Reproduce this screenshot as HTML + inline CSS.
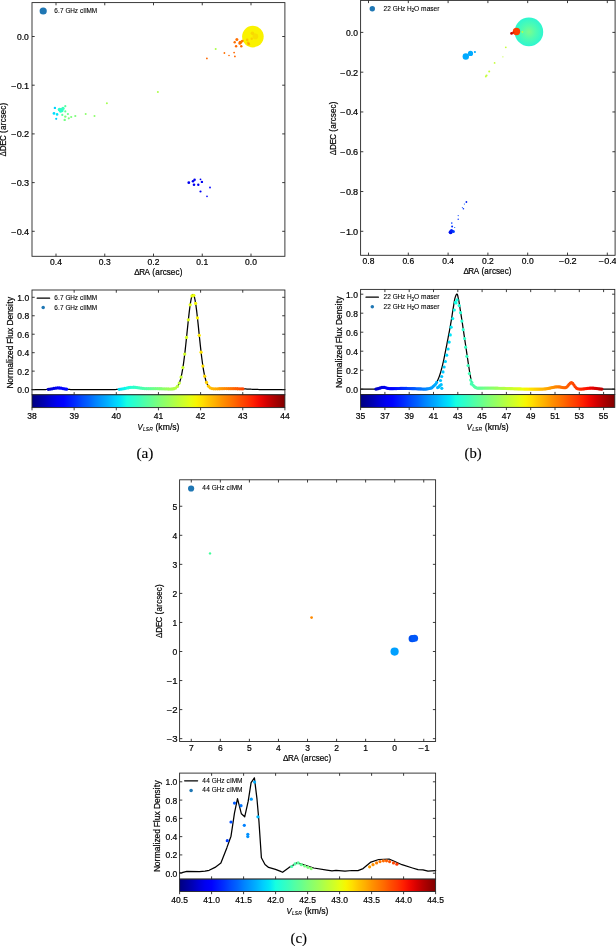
<!DOCTYPE html>
<html><head><meta charset="utf-8"><title>Maser spot maps and spectra</title>
<style>html,body{margin:0;padding:0;background:#fff;}body{width:616px;height:946px;overflow:hidden;font-family:"Liberation Sans",sans-serif;}svg{display:block;will-change:transform;}</style>
</head><body>
<svg width="616" height="946" viewBox="0 0 616 946">
<defs><linearGradient id="jg" x1="0" x2="1" y1="0" y2="0"><stop offset="0.000" stop-color="#000080"/><stop offset="0.025" stop-color="#00009b"/><stop offset="0.050" stop-color="#0000b6"/><stop offset="0.075" stop-color="#0000d6"/><stop offset="0.100" stop-color="#0000f1"/><stop offset="0.125" stop-color="#0001ff"/><stop offset="0.150" stop-color="#0019ff"/><stop offset="0.175" stop-color="#0031ff"/><stop offset="0.200" stop-color="#004dff"/><stop offset="0.225" stop-color="#0064ff"/><stop offset="0.250" stop-color="#0081ff"/><stop offset="0.275" stop-color="#0099ff"/><stop offset="0.300" stop-color="#00b1ff"/><stop offset="0.325" stop-color="#00cdff"/><stop offset="0.350" stop-color="#00e5f8"/><stop offset="0.375" stop-color="#16ffe1"/><stop offset="0.400" stop-color="#29ffce"/><stop offset="0.425" stop-color="#3cffba"/><stop offset="0.450" stop-color="#53ffa4"/><stop offset="0.475" stop-color="#66ff90"/><stop offset="0.500" stop-color="#7dff7a"/><stop offset="0.525" stop-color="#90ff66"/><stop offset="0.550" stop-color="#a4ff53"/><stop offset="0.575" stop-color="#baff3c"/><stop offset="0.600" stop-color="#ceff29"/><stop offset="0.625" stop-color="#e4ff13"/><stop offset="0.650" stop-color="#f8f500"/><stop offset="0.675" stop-color="#ffde00"/><stop offset="0.700" stop-color="#ffc400"/><stop offset="0.725" stop-color="#ffae00"/><stop offset="0.750" stop-color="#ff9400"/><stop offset="0.775" stop-color="#ff7e00"/><stop offset="0.800" stop-color="#ff6800"/><stop offset="0.825" stop-color="#ff4e00"/><stop offset="0.850" stop-color="#ff3800"/><stop offset="0.875" stop-color="#ff1e00"/><stop offset="0.900" stop-color="#f10800"/><stop offset="0.925" stop-color="#d60000"/><stop offset="0.950" stop-color="#b60000"/><stop offset="0.975" stop-color="#9b0000"/><stop offset="1.000" stop-color="#800000"/></linearGradient></defs>
<circle cx="252.90" cy="36.60" r="10.80" fill="#faf200"/>
<circle cx="252.40" cy="33.20" r="1.80" fill="#f8b800" fill-opacity="0.45"/>
<circle cx="255.40" cy="36.40" r="2.80" fill="#f8c800" fill-opacity="0.45"/>
<circle cx="251.70" cy="38.80" r="1.20" fill="#f8a800" fill-opacity="0.45"/>
<circle cx="247.20" cy="39.90" r="1.30" fill="#ff9000" fill-opacity="0.45"/>
<circle cx="248.20" cy="43.00" r="1.50" fill="#ff8000" fill-opacity="0.45"/>
<circle cx="248.90" cy="44.30" r="1.20" fill="#ff8000" fill-opacity="0.45"/>
<circle cx="54.90" cy="107.90" r="1.20" fill="#00d1ff"/>
<circle cx="54.00" cy="113.40" r="1.40" fill="#00ddfe"/>
<circle cx="57.10" cy="114.40" r="1.30" fill="#00e5f8"/>
<circle cx="56.20" cy="118.80" r="1.10" fill="#00d1ff"/>
<circle cx="59.60" cy="109.60" r="1.90" fill="#29ffce"/>
<circle cx="61.40" cy="109.90" r="1.90" fill="#30ffc7"/>
<circle cx="63.00" cy="108.40" r="1.70" fill="#39ffbe"/>
<circle cx="60.60" cy="111.20" r="1.50" fill="#29ffce"/>
<circle cx="62.20" cy="110.80" r="1.40" fill="#30ffc7"/>
<circle cx="65.30" cy="106.20" r="1.10" fill="#5aff9d"/>
<circle cx="65.30" cy="111.40" r="1.10" fill="#63ff94"/>
<circle cx="62.30" cy="114.90" r="1.10" fill="#5aff9d"/>
<circle cx="67.90" cy="114.00" r="1.10" fill="#6aff8d"/>
<circle cx="65.30" cy="116.60" r="1.20" fill="#7dff7a"/>
<circle cx="64.70" cy="119.90" r="1.20" fill="#73ff83"/>
<circle cx="68.80" cy="118.30" r="1.10" fill="#7dff7a"/>
<circle cx="71.20" cy="117.00" r="1.10" fill="#7dff7a"/>
<circle cx="75.30" cy="116.00" r="1.10" fill="#7dff7a"/>
<circle cx="85.70" cy="114.00" r="1.00" fill="#8dff6a"/>
<circle cx="94.50" cy="116.00" r="1.00" fill="#8dff6a"/>
<circle cx="106.90" cy="103.20" r="1.00" fill="#a4ff53"/>
<circle cx="157.90" cy="92.00" r="1.00" fill="#adff49"/>
<circle cx="215.70" cy="49.10" r="1.00" fill="#adff49"/>
<circle cx="206.90" cy="58.40" r="0.90" fill="#ff6800"/>
<circle cx="224.40" cy="53.00" r="0.90" fill="#ff6f00"/>
<circle cx="229.00" cy="55.50" r="0.80" fill="#ff6800"/>
<circle cx="234.10" cy="52.60" r="0.90" fill="#ff6800"/>
<circle cx="234.90" cy="56.40" r="0.90" fill="#ff6800"/>
<circle cx="236.90" cy="39.40" r="1.50" fill="#ff6f00"/>
<circle cx="234.70" cy="42.30" r="1.20" fill="#ff6f00"/>
<circle cx="240.30" cy="42.60" r="1.80" fill="#ff6f00"/>
<circle cx="242.30" cy="41.10" r="1.40" fill="#ff7a00"/>
<circle cx="236.10" cy="46.20" r="1.20" fill="#ff6800"/>
<circle cx="241.30" cy="46.30" r="1.20" fill="#ff6800"/>
<circle cx="239.60" cy="43.60" r="1.20" fill="#ff6f00"/>
<circle cx="188.80" cy="182.70" r="1.40" fill="#0000f1"/>
<circle cx="193.00" cy="181.20" r="1.30" fill="#0000f1"/>
<circle cx="194.60" cy="179.70" r="1.30" fill="#0000f1"/>
<circle cx="194.00" cy="184.80" r="1.30" fill="#0000f1"/>
<circle cx="198.30" cy="184.80" r="1.20" fill="#0000f1"/>
<circle cx="200.50" cy="179.30" r="0.90" fill="#0000f1"/>
<circle cx="201.90" cy="181.90" r="1.20" fill="#0000f1"/>
<circle cx="210.00" cy="187.50" r="0.90" fill="#0000ff"/>
<circle cx="200.50" cy="191.50" r="1.10" fill="#0000f1"/>
<circle cx="207.00" cy="196.40" r="0.80" fill="#0000ff"/>
<path d="M56.00 2.60v2.70M56.00 256.30v-2.70M104.75 2.60v2.70M104.75 256.30v-2.70M153.50 2.60v2.70M153.50 256.30v-2.70M202.25 2.60v2.70M202.25 256.30v-2.70M251.00 2.60v2.70M251.00 256.30v-2.70M32.00 36.50h2.70M284.90 36.50h-2.70M32.00 85.20h2.70M284.90 85.20h-2.70M32.00 133.90h2.70M284.90 133.90h-2.70M32.00 182.60h2.70M284.90 182.60h-2.70M32.00 231.30h2.70M284.90 231.30h-2.70" stroke="#262626" stroke-width="0.90" fill="none"/>
<rect x="32.00" y="2.60" width="252.90" height="253.70" fill="none" stroke="#262626" stroke-width="0.90"/>
<circle cx="43.20" cy="11.00" r="3.60" fill="#1f77b4"/>
<text transform="translate(54.20 12.90) scale(0.957 1)" x="0.13 4.05 6.11 10.04 11.79 16.76 21.51 24.90 26.88 30.27 32.12 33.89 39.30" y="0" font-family="Liberation Sans" font-size="6.72" stroke="#000" stroke-width="0.10" xml:space="preserve">6.7 GHz cIIMM</text>
<text transform="translate(56.00 264.70) scale(1.021 1)" x="-5.80 -1.16 1.16" y="0" font-family="Liberation Sans" font-size="8.34" stroke="#000" stroke-width="0.20" xml:space="preserve">0.4</text>
<text transform="translate(104.75 264.70) scale(1.021 1)" x="-5.80 -1.16 1.16" y="0" font-family="Liberation Sans" font-size="8.34" stroke="#000" stroke-width="0.20" xml:space="preserve">0.3</text>
<text transform="translate(153.50 264.70) scale(1.021 1)" x="-5.80 -1.16 1.16" y="0" font-family="Liberation Sans" font-size="8.34" stroke="#000" stroke-width="0.20" xml:space="preserve">0.2</text>
<text transform="translate(202.25 264.70) scale(1.021 1)" x="-5.80 -1.16 1.16" y="0" font-family="Liberation Sans" font-size="8.34" stroke="#000" stroke-width="0.20" xml:space="preserve">0.1</text>
<text transform="translate(251.00 264.70) scale(1.021 1)" x="-5.80 -1.16 1.16" y="0" font-family="Liberation Sans" font-size="8.34" stroke="#000" stroke-width="0.20" xml:space="preserve">0.0</text>
<text transform="translate(28.80 40.00) scale(1.021 1)" x="-11.60 -6.96 -4.64" y="0" font-family="Liberation Sans" font-size="8.34" stroke="#000" stroke-width="0.20" xml:space="preserve">0.0</text>
<text transform="translate(28.80 88.70) scale(1.098 1)" x="-16.07 -10.95 -6.55 -4.48" y="0" font-family="Liberation Sans" font-size="8.34" stroke="#000" stroke-width="0.20" xml:space="preserve">−0.1</text>
<text transform="translate(28.80 137.40) scale(1.098 1)" x="-16.07 -10.95 -6.55 -4.48" y="0" font-family="Liberation Sans" font-size="8.34" stroke="#000" stroke-width="0.20" xml:space="preserve">−0.2</text>
<text transform="translate(28.80 186.10) scale(1.098 1)" x="-16.07 -10.95 -6.55 -4.48" y="0" font-family="Liberation Sans" font-size="8.34" stroke="#000" stroke-width="0.20" xml:space="preserve">−0.3</text>
<text transform="translate(28.80 234.80) scale(1.098 1)" x="-16.07 -10.95 -6.55 -4.48" y="0" font-family="Liberation Sans" font-size="8.34" stroke="#000" stroke-width="0.20" xml:space="preserve">−0.4</text>
<text transform="translate(158.40 275.20) scale(0.964 1)" x="-25.12 -19.98 -14.39 -8.86 -6.34 -3.37 1.55 4.59 8.75 12.93 17.70 22.06" y="0" font-family="Liberation Sans" font-size="8.40" stroke="#000" stroke-width="0.20" xml:space="preserve">ΔRA (arcsec)</text>
<text transform="translate(6.40 129.50) rotate(-90) scale(0.956 1)" x="-28.13 -22.66 -16.93 -11.94 -6.09 -3.55 -0.55 4.40 7.47 11.67 15.89 20.69 25.08" y="0" font-family="Liberation Sans" font-size="8.40" stroke="#000" stroke-width="0.20" xml:space="preserve">ΔDEC (arcsec)</text>
<polyline points="32.00,389.60 32.36,389.60 32.72,389.60 33.09,389.60 33.45,389.60 33.81,389.60 34.17,389.60 34.53,389.60 34.89,389.60 35.26,389.60 35.62,389.60 35.98,389.60 36.34,389.60 36.70,389.60 37.07,389.60 37.43,389.60 37.79,389.60 38.15,389.60 38.51,389.60 38.87,389.60 39.24,389.60 39.60,389.60 39.96,389.60 40.32,389.60 40.68,389.60 41.05,389.59 41.41,389.59 41.77,389.59 42.13,389.59 42.49,389.59 42.85,389.58 43.22,389.58 43.58,389.57 43.94,389.57 44.30,389.56 44.66,389.55 45.02,389.54 45.39,389.53 45.75,389.52 46.11,389.50 46.47,389.48 46.83,389.46 47.20,389.44 47.56,389.41 47.92,389.38 48.28,389.35 48.64,389.31 49.00,389.27 49.37,389.23 49.73,389.18 50.09,389.13 50.45,389.08 50.81,389.02 51.18,388.95 51.54,388.89 51.90,388.82 52.26,388.75 52.62,388.68 52.98,388.61 53.35,388.54 53.71,388.47 54.07,388.40 54.43,388.33 54.79,388.26 55.16,388.20 55.52,388.15 55.88,388.10 56.24,388.05 56.60,388.01 56.96,387.98 57.33,387.96 57.69,387.95 58.05,387.94 58.41,387.94 58.77,387.95 59.14,387.97 59.50,388.00 59.86,388.03 60.22,388.07 60.58,388.12 60.94,388.18 61.31,388.24 61.67,388.30 62.03,388.37 62.39,388.43 62.75,388.51 63.12,388.58 63.48,388.65 63.84,388.72 64.20,388.79 64.56,388.86 64.92,388.93 65.29,388.99 65.65,389.05 66.01,389.11 66.37,389.16 66.73,389.21 67.09,389.25 67.46,389.30 67.82,389.33 68.18,389.37 68.54,389.40 68.90,389.43 69.27,389.45 69.63,389.47 69.99,389.49 70.35,389.51 70.71,389.52 71.07,389.54 71.44,389.55 71.80,389.56 72.16,389.56 72.52,389.57 72.88,389.58 73.25,389.58 73.61,389.58 73.97,389.59 74.33,389.59 74.69,389.59 75.05,389.59 75.42,389.60 75.78,389.60 76.14,389.60 76.50,389.60 76.86,389.60 77.23,389.60 77.59,389.60 77.95,389.60 78.31,389.60 78.67,389.60 79.03,389.60 79.40,389.60 79.76,389.60 80.12,389.60 80.48,389.60 80.84,389.60 81.21,389.60 81.57,389.60 81.93,389.60 82.29,389.60 82.65,389.60 83.01,389.60 83.38,389.60 83.74,389.60 84.10,389.60 84.46,389.60 84.82,389.60 85.18,389.60 85.55,389.60 85.91,389.60 86.27,389.60 86.63,389.60 86.99,389.60 87.36,389.60 87.72,389.60 88.08,389.60 88.44,389.60 88.80,389.60 89.16,389.60 89.53,389.60 89.89,389.60 90.25,389.60 90.61,389.60 90.97,389.60 91.34,389.60 91.70,389.60 92.06,389.60 92.42,389.60 92.78,389.60 93.14,389.60 93.51,389.60 93.87,389.60 94.23,389.60 94.59,389.60 94.95,389.60 95.32,389.60 95.68,389.60 96.04,389.60 96.40,389.60 96.76,389.60 97.12,389.60 97.49,389.60 97.85,389.60 98.21,389.60 98.57,389.60 98.93,389.60 99.30,389.60 99.66,389.60 100.02,389.60 100.38,389.60 100.74,389.60 101.10,389.60 101.47,389.60 101.83,389.60 102.19,389.60 102.55,389.60 102.91,389.60 103.28,389.60 103.64,389.60 104.00,389.60 104.36,389.60 104.72,389.60 105.08,389.60 105.45,389.60 105.81,389.60 106.17,389.60 106.53,389.59 106.89,389.59 107.25,389.59 107.62,389.59 107.98,389.59 108.34,389.59 108.70,389.59 109.06,389.59 109.43,389.59 109.79,389.59 110.15,389.59 110.51,389.58 110.87,389.58 111.23,389.58 111.60,389.58 111.96,389.57 112.32,389.57 112.68,389.57 113.04,389.56 113.41,389.56 113.77,389.55 114.13,389.54 114.49,389.54 114.85,389.53 115.21,389.52 115.58,389.51 115.94,389.50 116.30,389.48 116.66,389.47 117.02,389.45 117.39,389.43 117.75,389.41 118.11,389.39 118.47,389.37 118.83,389.34 119.19,389.31 119.56,389.28 119.92,389.24 120.28,389.20 120.64,389.16 121.00,389.12 121.37,389.07 121.73,389.02 122.09,388.97 122.45,388.91 122.81,388.85 123.17,388.79 123.54,388.72 123.90,388.65 124.26,388.58 124.62,388.51 124.98,388.43 125.35,388.36 125.71,388.28 126.07,388.20 126.43,388.13 126.79,388.05 127.15,387.97 127.52,387.90 127.88,387.83 128.24,387.76 128.60,387.69 128.96,387.62 129.32,387.56 129.69,387.51 130.05,387.46 130.41,387.41 130.77,387.37 131.13,387.33 131.50,387.31 131.86,387.28 132.22,387.27 132.58,387.26 132.94,387.25 133.30,387.26 133.67,387.27 134.03,387.28 134.39,387.30 134.75,387.33 135.11,387.36 135.48,387.40 135.84,387.44 136.20,387.48 136.56,387.53 136.92,387.58 137.28,387.63 137.65,387.69 138.01,387.74 138.37,387.80 138.73,387.85 139.09,387.91 139.46,387.97 139.82,388.02 140.18,388.08 140.54,388.13 140.90,388.18 141.26,388.23 141.63,388.27 141.99,388.32 142.35,388.36 142.71,388.39 143.07,388.43 143.44,388.46 143.80,388.49 144.16,388.52 144.52,388.54 144.88,388.56 145.24,388.58 145.61,388.60 145.97,388.61 146.33,388.63 146.69,388.64 147.05,388.65 147.42,388.65 147.78,388.66 148.14,388.66 148.50,388.67 148.86,388.67 149.22,388.67 149.59,388.67 149.95,388.67 150.31,388.67 150.67,388.67 151.03,388.67 151.39,388.67 151.76,388.67 152.12,388.67 152.48,388.67 152.84,388.67 153.20,388.67 153.57,388.67 153.93,388.67 154.29,388.67 154.65,388.67 155.01,388.68 155.37,388.68 155.74,388.68 156.10,388.68 156.46,388.69 156.82,388.69 157.18,388.69 157.55,388.70 157.91,388.70 158.27,388.71 158.63,388.72 158.99,388.72 159.35,388.73 159.72,388.74 160.08,388.75 160.44,388.76 160.80,388.76 161.16,388.77 161.53,388.78 161.89,388.79 162.25,388.80 162.61,388.81 162.97,388.83 163.33,388.84 163.70,388.85 164.06,388.86 164.42,388.87 164.78,388.88 165.14,388.90 165.51,388.91 165.87,388.92 166.23,388.93 166.59,388.95 166.95,388.96 167.31,388.97 167.68,388.98 168.04,388.99 168.40,389.00 168.76,389.01 169.12,389.02 169.48,389.03 169.85,389.03 170.21,389.03 170.57,389.03 170.93,389.03 171.29,389.02 171.66,389.00 172.02,388.98 172.38,388.96 172.74,388.92 173.10,388.87 173.46,388.81 173.83,388.74 174.19,388.64 174.55,388.53 174.91,388.39 175.27,388.23 175.64,388.03 176.00,387.80 176.36,387.53 176.72,387.21 177.08,386.84 177.44,386.40 177.81,385.91 178.17,385.34 178.53,384.68 178.89,383.94 179.25,383.11 179.62,382.17 179.98,381.11 180.34,379.94 180.70,378.63 181.06,377.19 181.42,375.61 181.79,373.88 182.15,371.99 182.51,369.95 182.87,367.75 183.23,365.39 183.60,362.87 183.96,360.19 184.32,357.37 184.68,354.41 185.04,351.31 185.40,348.10 185.77,344.78 186.13,341.38 186.49,337.91 186.85,334.40 187.21,330.87 187.58,327.35 187.94,323.86 188.30,320.44 188.66,317.11 189.02,313.90 189.38,310.85 189.75,307.98 190.11,305.33 190.47,302.91 190.83,300.76 191.19,298.90 191.55,297.34 191.92,296.11 192.28,295.22 192.64,294.68 193.00,294.49 193.36,294.66 193.73,295.18 194.09,296.05 194.45,297.26 194.81,298.80 195.17,300.65 195.53,302.78 195.90,305.19 196.26,307.83 196.62,310.68 196.98,313.73 197.34,316.92 197.71,320.25 198.07,323.67 198.43,327.15 198.79,330.67 199.15,334.20 199.51,337.71 199.88,341.18 200.24,344.59 200.60,347.91 200.96,351.13 201.32,354.23 201.69,357.21 202.05,360.04 202.41,362.72 202.77,365.24 203.13,367.61 203.49,369.82 203.86,371.87 204.22,373.76 204.58,375.50 204.94,377.09 205.30,378.53 205.67,379.84 206.03,381.02 206.39,382.08 206.75,383.02 207.11,383.86 207.47,384.60 207.84,385.25 208.20,385.82 208.56,386.32 208.92,386.75 209.28,387.12 209.65,387.43 210.01,387.70 210.37,387.93 210.73,388.12 211.09,388.28 211.45,388.41 211.82,388.52 212.18,388.61 212.54,388.68 212.90,388.73 213.26,388.77 213.62,388.81 213.99,388.83 214.35,388.84 214.71,388.85 215.07,388.85 215.43,388.85 215.80,388.85 216.16,388.84 216.52,388.83 216.88,388.82 217.24,388.81 217.60,388.80 217.97,388.79 218.33,388.77 218.69,388.76 219.05,388.75 219.41,388.74 219.78,388.72 220.14,388.71 220.50,388.70 220.86,388.69 221.22,388.68 221.58,388.67 221.95,388.66 222.31,388.66 222.67,388.65 223.03,388.64 223.39,388.64 223.76,388.63 224.12,388.63 224.48,388.63 224.84,388.62 225.20,388.62 225.56,388.62 225.93,388.62 226.29,388.62 226.65,388.62 227.01,388.62 227.37,388.62 227.74,388.63 228.10,388.63 228.46,388.63 228.82,388.64 229.18,388.64 229.54,388.64 229.91,388.65 230.27,388.65 230.63,388.66 230.99,388.66 231.35,388.66 231.72,388.67 232.08,388.67 232.44,388.68 232.80,388.68 233.16,388.69 233.52,388.69 233.89,388.70 234.25,388.70 234.61,388.71 234.97,388.71 235.33,388.72 235.69,388.72 236.06,388.73 236.42,388.73 236.78,388.74 237.14,388.74 237.50,388.75 237.87,388.75 238.23,388.76 238.59,388.77 238.95,388.77 239.31,388.78 239.67,388.79 240.04,388.79 240.40,388.80 240.76,388.81 241.12,388.82 241.48,388.83 241.85,388.84 242.21,388.85 242.57,388.86 242.93,388.87 243.29,388.88 243.65,388.89 244.02,388.91 244.38,388.92 244.74,388.93 245.10,388.95 245.46,388.96 245.83,388.98 246.19,388.99 246.55,389.01 246.91,389.03 247.27,389.04 247.63,389.06 248.00,389.08 248.36,389.10 248.72,389.11 249.08,389.13 249.44,389.15 249.81,389.17 250.17,389.18 250.53,389.20 250.89,389.22 251.25,389.24 251.61,389.25 251.98,389.27 252.34,389.29 252.70,389.30 253.06,389.32 253.42,389.33 253.78,389.35 254.15,389.36 254.51,389.38 254.87,389.39 255.23,389.40 255.59,389.42 255.96,389.43 256.32,389.44 256.68,389.45 257.04,389.46 257.40,389.47 257.76,389.48 258.13,389.49 258.49,389.50 258.85,389.51 259.21,389.51 259.57,389.52 259.94,389.53 260.30,389.53 260.66,389.54 261.02,389.55 261.38,389.55 261.74,389.55 262.11,389.56 262.47,389.56 262.83,389.57 263.19,389.57 263.55,389.57 263.92,389.58 264.28,389.58 264.64,389.58 265.00,389.58 265.36,389.58 265.72,389.59 266.09,389.59 266.45,389.59 266.81,389.59 267.17,389.59 267.53,389.59 267.90,389.59 268.26,389.59 268.62,389.59 268.98,389.60 269.34,389.60 269.70,389.60 270.07,389.60 270.43,389.60 270.79,389.60 271.15,389.60 271.51,389.60 271.88,389.60 272.24,389.60 272.60,389.60 272.96,389.60 273.32,389.60 273.68,389.60 274.05,389.60 274.41,389.60 274.77,389.60 275.13,389.60 275.49,389.60 275.85,389.60 276.22,389.60 276.58,389.60 276.94,389.60 277.30,389.60 277.66,389.60 278.03,389.60 278.39,389.60 278.75,389.60 279.11,389.60 279.47,389.60 279.83,389.60 280.20,389.60 280.56,389.60 280.92,389.60 281.28,389.60 281.64,389.60 282.01,389.60 282.37,389.60 282.73,389.60 283.09,389.60 283.45,389.60 283.81,389.60 284.18,389.60 284.54,389.60 284.90,389.60" fill="none" stroke="#000" stroke-width="1.25" stroke-linejoin="round" stroke-linecap="round"/>
<circle cx="48.39" cy="389.34" r="1.65" fill="#0000c8"/>
<circle cx="50.20" cy="389.11" r="1.65" fill="#0000d1"/>
<circle cx="52.02" cy="388.80" r="1.65" fill="#0000da"/>
<circle cx="53.84" cy="388.44" r="1.65" fill="#0000e3"/>
<circle cx="55.66" cy="388.13" r="1.65" fill="#0000e8"/>
<circle cx="57.47" cy="387.95" r="1.65" fill="#0000f1"/>
<circle cx="59.29" cy="387.98" r="1.65" fill="#0000fa"/>
<circle cx="61.11" cy="388.20" r="1.65" fill="#0000ff"/>
<circle cx="62.93" cy="388.54" r="1.65" fill="#0000ff"/>
<circle cx="64.75" cy="388.89" r="1.65" fill="#0004ff"/>
<circle cx="66.56" cy="389.19" r="1.65" fill="#0009ff"/>
<circle cx="119.28" cy="389.30" r="1.65" fill="#00e1fb"/>
<circle cx="121.10" cy="389.11" r="1.65" fill="#02e8f4"/>
<circle cx="122.92" cy="388.83" r="1.65" fill="#09f1ee"/>
<circle cx="124.73" cy="388.49" r="1.65" fill="#0cf5eb"/>
<circle cx="126.55" cy="388.10" r="1.65" fill="#13fde4"/>
<circle cx="128.37" cy="387.73" r="1.65" fill="#19ffde"/>
<circle cx="130.19" cy="387.44" r="1.65" fill="#1fffd7"/>
<circle cx="132.01" cy="387.28" r="1.65" fill="#26ffd1"/>
<circle cx="133.82" cy="387.27" r="1.65" fill="#2cffca"/>
<circle cx="135.64" cy="387.41" r="1.65" fill="#30ffc7"/>
<circle cx="137.46" cy="387.66" r="1.65" fill="#36ffc1"/>
<circle cx="139.28" cy="387.94" r="1.65" fill="#3cffba"/>
<circle cx="141.10" cy="388.20" r="1.65" fill="#43ffb4"/>
<circle cx="142.91" cy="388.41" r="1.65" fill="#49ffad"/>
<circle cx="144.73" cy="388.55" r="1.65" fill="#50ffa7"/>
<circle cx="146.55" cy="388.63" r="1.65" fill="#53ffa4"/>
<circle cx="148.37" cy="388.67" r="1.65" fill="#5aff9d"/>
<circle cx="150.18" cy="388.67" r="1.65" fill="#60ff97"/>
<circle cx="152.00" cy="388.67" r="1.65" fill="#66ff90"/>
<circle cx="153.82" cy="388.67" r="1.65" fill="#6dff8a"/>
<circle cx="155.64" cy="388.68" r="1.65" fill="#73ff83"/>
<circle cx="157.46" cy="388.70" r="1.65" fill="#77ff80"/>
<circle cx="159.27" cy="388.73" r="1.65" fill="#7dff7a"/>
<circle cx="161.09" cy="388.77" r="1.65" fill="#83ff73"/>
<circle cx="162.91" cy="388.82" r="1.65" fill="#8aff6d"/>
<circle cx="164.73" cy="388.88" r="1.65" fill="#90ff66"/>
<circle cx="166.55" cy="388.94" r="1.65" fill="#97ff60"/>
<circle cx="168.36" cy="389.00" r="1.65" fill="#9dff5a"/>
<circle cx="170.18" cy="389.03" r="1.65" fill="#a0ff56"/>
<circle cx="172.00" cy="388.99" r="1.65" fill="#a7ff50"/>
<circle cx="173.82" cy="388.74" r="1.65" fill="#adff49"/>
<circle cx="175.63" cy="388.03" r="1.65" fill="#b4ff43"/>
<circle cx="177.45" cy="386.39" r="1.65" fill="#baff3c"/>
<circle cx="179.27" cy="383.07" r="1.65" fill="#c1ff36"/>
<circle cx="181.09" cy="377.09" r="1.65" fill="#c4ff33"/>
<circle cx="182.91" cy="367.53" r="1.65" fill="#caff2c"/>
<circle cx="184.72" cy="354.05" r="1.65" fill="#d1ff26"/>
<circle cx="186.54" cy="337.41" r="1.65" fill="#d7ff1f"/>
<circle cx="188.36" cy="319.87" r="1.65" fill="#deff19"/>
<circle cx="190.18" cy="304.85" r="1.65" fill="#e4ff13"/>
<circle cx="192.00" cy="295.89" r="1.65" fill="#e7ff0f"/>
<circle cx="193.81" cy="295.36" r="1.65" fill="#eeff09"/>
<circle cx="195.63" cy="303.40" r="1.65" fill="#f4f802"/>
<circle cx="197.45" cy="317.87" r="1.65" fill="#fbf100"/>
<circle cx="199.27" cy="335.31" r="1.65" fill="#ffea00"/>
<circle cx="201.08" cy="352.20" r="1.65" fill="#ffe200"/>
<circle cx="202.90" cy="366.12" r="1.65" fill="#ffde00"/>
<circle cx="204.72" cy="376.13" r="1.65" fill="#ffd700"/>
<circle cx="206.54" cy="382.48" r="1.65" fill="#ffd000"/>
<circle cx="208.36" cy="386.05" r="1.65" fill="#ffc800"/>
<circle cx="210.17" cy="387.81" r="1.65" fill="#ffc100"/>
<circle cx="211.99" cy="388.57" r="1.65" fill="#ffb900"/>
<circle cx="213.81" cy="388.82" r="1.65" fill="#ffb200"/>
<circle cx="215.63" cy="388.85" r="1.65" fill="#ffae00"/>
<circle cx="217.44" cy="388.81" r="1.65" fill="#ffa700"/>
<circle cx="219.26" cy="388.74" r="1.65" fill="#ff9f00"/>
<circle cx="221.08" cy="388.69" r="1.65" fill="#ff9800"/>
<circle cx="222.90" cy="388.65" r="1.65" fill="#ff9100"/>
<circle cx="224.72" cy="388.62" r="1.65" fill="#ff8900"/>
<circle cx="226.53" cy="388.62" r="1.65" fill="#ff8600"/>
<circle cx="228.35" cy="388.63" r="1.65" fill="#ff7e00"/>
<circle cx="230.17" cy="388.65" r="1.65" fill="#ff7700"/>
<circle cx="231.99" cy="388.67" r="1.65" fill="#ff6f00"/>
<circle cx="233.81" cy="388.70" r="1.65" fill="#ff6800"/>
<circle cx="235.62" cy="388.72" r="1.65" fill="#ff6000"/>
<circle cx="237.44" cy="388.75" r="1.65" fill="#ff5d00"/>
<circle cx="239.26" cy="388.78" r="1.65" fill="#ff5500"/>
<circle cx="241.08" cy="388.82" r="1.65" fill="#ff4e00"/>
<circle cx="242.89" cy="388.87" r="1.65" fill="#ff4700"/>
<path d="M74.15 290.00v2.70M116.30 290.00v2.70M158.45 290.00v2.70M200.60 290.00v2.70M242.75 290.00v2.70M32.00 389.60h2.70M284.90 389.60h-2.70M32.00 371.14h2.70M284.90 371.14h-2.70M32.00 352.68h2.70M284.90 352.68h-2.70M32.00 334.22h2.70M284.90 334.22h-2.70M32.00 315.76h2.70M284.90 315.76h-2.70M32.00 297.30h2.70M284.90 297.30h-2.70" stroke="#262626" stroke-width="0.90" fill="none"/>
<rect x="32.00" y="290.00" width="252.90" height="104.80" fill="none" stroke="#262626" stroke-width="0.90"/>
<polyline points="37.20,298.20 49.60,298.20" fill="none" stroke="#000" stroke-width="1.25" stroke-linejoin="round" stroke-linecap="round"/>
<text transform="translate(54.20 300.40) scale(0.957 1)" x="0.13 4.05 6.11 10.04 11.79 16.76 21.51 24.90 26.88 30.27 32.12 33.89 39.30" y="0" font-family="Liberation Sans" font-size="6.72" stroke="#000" stroke-width="0.10" xml:space="preserve">6.7 GHz cIIMM</text>
<circle cx="43.20" cy="307.60" r="1.75" fill="#1f77b4"/>
<text transform="translate(54.20 309.60) scale(0.957 1)" x="0.13 4.05 6.11 10.04 11.79 16.76 21.51 24.90 26.88 30.27 32.12 33.89 39.30" y="0" font-family="Liberation Sans" font-size="6.72" stroke="#000" stroke-width="0.10" xml:space="preserve">6.7 GHz cIIMM</text>
<text transform="translate(29.20 393.10) scale(1.021 1)" x="-11.60 -6.96 -4.64" y="0" font-family="Liberation Sans" font-size="8.34" stroke="#000" stroke-width="0.20" xml:space="preserve">0.0</text>
<text transform="translate(29.20 374.64) scale(1.021 1)" x="-11.60 -6.96 -4.64" y="0" font-family="Liberation Sans" font-size="8.34" stroke="#000" stroke-width="0.20" xml:space="preserve">0.2</text>
<text transform="translate(29.20 356.18) scale(1.021 1)" x="-11.60 -6.96 -4.64" y="0" font-family="Liberation Sans" font-size="8.34" stroke="#000" stroke-width="0.20" xml:space="preserve">0.4</text>
<text transform="translate(29.20 337.72) scale(1.021 1)" x="-11.60 -6.96 -4.64" y="0" font-family="Liberation Sans" font-size="8.34" stroke="#000" stroke-width="0.20" xml:space="preserve">0.6</text>
<text transform="translate(29.20 319.26) scale(1.021 1)" x="-11.60 -6.96 -4.64" y="0" font-family="Liberation Sans" font-size="8.34" stroke="#000" stroke-width="0.20" xml:space="preserve">0.8</text>
<text transform="translate(29.20 300.80) scale(1.021 1)" x="-11.60 -6.96 -4.64" y="0" font-family="Liberation Sans" font-size="8.34" stroke="#000" stroke-width="0.20" xml:space="preserve">1.0</text>
<text transform="translate(12.60 342.50) rotate(-90) scale(1.006 1)" x="-45.76 -39.99 -35.24 -32.17 -25.09 -20.37 -18.29 -16.47 -12.45 -7.79 -3.07 -1.14 3.68 5.67 10.48 14.81 17.00 22.86 27.52 32.06 36.21 38.47 41.21" y="0" font-family="Liberation Sans" font-size="8.40" stroke="#000" stroke-width="0.20" xml:space="preserve">Normalized Flux Density</text>
<rect x="32.00" y="394.80" width="252.90" height="12.80" fill="url(#jg)"/>
<rect x="32.00" y="394.80" width="252.90" height="12.80" fill="none" stroke="#262626" stroke-width="0.90"/>
<path d="M32.00 407.60v2.70M74.15 394.80v-2.70M74.15 407.60v2.70M116.30 394.80v-2.70M116.30 407.60v2.70M158.45 394.80v-2.70M158.45 407.60v2.70M200.60 394.80v-2.70M200.60 407.60v2.70M242.75 394.80v-2.70M242.75 407.60v2.70M284.90 407.60v2.70" stroke="#262626" stroke-width="0.90" fill="none"/>
<text transform="translate(32.00 418.70) scale(1.021 1)" x="-4.64 0.00" y="0" font-family="Liberation Sans" font-size="8.34" stroke="#000" stroke-width="0.20" xml:space="preserve">38</text>
<text transform="translate(74.15 418.70) scale(1.021 1)" x="-4.64 0.00" y="0" font-family="Liberation Sans" font-size="8.34" stroke="#000" stroke-width="0.20" xml:space="preserve">39</text>
<text transform="translate(116.30 418.70) scale(1.021 1)" x="-4.64 0.00" y="0" font-family="Liberation Sans" font-size="8.34" stroke="#000" stroke-width="0.20" xml:space="preserve">40</text>
<text transform="translate(158.45 418.70) scale(1.021 1)" x="-4.64 0.00" y="0" font-family="Liberation Sans" font-size="8.34" stroke="#000" stroke-width="0.20" xml:space="preserve">41</text>
<text transform="translate(200.60 418.70) scale(1.021 1)" x="-4.64 0.00" y="0" font-family="Liberation Sans" font-size="8.34" stroke="#000" stroke-width="0.20" xml:space="preserve">42</text>
<text transform="translate(242.75 418.70) scale(1.021 1)" x="-4.64 0.00" y="0" font-family="Liberation Sans" font-size="8.34" stroke="#000" stroke-width="0.20" xml:space="preserve">43</text>
<text transform="translate(284.90 418.70) scale(1.021 1)" x="-4.64 0.00" y="0" font-family="Liberation Sans" font-size="8.34" stroke="#000" stroke-width="0.20" xml:space="preserve">44</text>
<text transform="translate(137.47 429.50) scale(0.916 1)" x="0.00" y="0" font-family="Liberation Sans" font-size="8.40" font-style="italic" stroke="#000" stroke-width="0.20" xml:space="preserve">V</text>
<text transform="translate(142.90 431.30) scale(0.866 1)" x="0.05 3.34 7.21" y="0" font-family="Liberation Sans" font-size="5.88" font-style="italic" stroke="#000" stroke-width="0.10" xml:space="preserve">LSR</text>
<text transform="translate(153.01 429.50) scale(1.026 1)" x="-0.00 2.35 5.19 9.47 16.60 18.80 22.83" y="0" font-family="Liberation Sans" font-size="8.40" stroke="#000" stroke-width="0.20" xml:space="preserve"> (km/s)</text>
<text x="144.90" y="458.10" font-family="Liberation Serif" font-size="14.60" text-anchor="middle" textLength="17.00" lengthAdjust="spacingAndGlyphs" stroke="#000" stroke-width="0.12">(a)</text>
<defs><radialGradient id="rgb" cx="0.5" cy="0.5" r="0.5"><stop offset="0" stop-color="#7dfc8c"/><stop offset="0.45" stop-color="#52fcae"/><stop offset="1" stop-color="#2ef6d0"/></radialGradient></defs>
<circle cx="528.90" cy="31.90" r="14.30" fill="url(#rgb)"/>
<circle cx="522.40" cy="31.90" r="0.90" fill="#c8ff30"/>
<circle cx="516.50" cy="31.50" r="3.70" fill="#ff4000"/>
<circle cx="511.60" cy="33.40" r="1.40" fill="#c80000"/>
<circle cx="513.20" cy="32.60" r="1.20" fill="#e02000"/>
<circle cx="465.80" cy="56.50" r="3.20" fill="#00aaff"/>
<circle cx="470.50" cy="53.40" r="2.60" fill="#00aaff"/>
<circle cx="474.90" cy="52.00" r="1.10" fill="#00aaff"/>
<circle cx="505.80" cy="47.30" r="0.90" fill="#c4ff3a"/>
<circle cx="502.90" cy="56.80" r="0.60" fill="#c4ff3a"/>
<circle cx="494.60" cy="62.90" r="0.90" fill="#c4ff3a"/>
<circle cx="489.20" cy="71.40" r="1.00" fill="#c4ff3a"/>
<circle cx="486.50" cy="75.50" r="1.10" fill="#c4ff3a"/>
<circle cx="485.80" cy="76.60" r="0.90" fill="#c4ff3a"/>
<circle cx="450.60" cy="232.20" r="2.00" fill="#0010ee"/>
<circle cx="453.40" cy="231.60" r="1.50" fill="#0040ff"/>
<circle cx="452.10" cy="226.40" r="1.00" fill="#0030ff"/>
<circle cx="451.80" cy="223.10" r="0.80" fill="#0040ff"/>
<circle cx="454.70" cy="227.50" r="0.60" fill="#0050ff"/>
<circle cx="458.20" cy="219.20" r="0.70" fill="#0030ff"/>
<circle cx="458.20" cy="215.60" r="0.60" fill="#0040ff"/>
<circle cx="463.40" cy="208.80" r="0.80" fill="#0030ff"/>
<circle cx="462.30" cy="207.50" r="0.50" fill="#0040ff"/>
<circle cx="464.40" cy="204.00" r="0.60" fill="#0050ff"/>
<circle cx="466.40" cy="202.00" r="0.90" fill="#0020f0"/>
<circle cx="451.50" cy="230.50" r="1.60" fill="#0020f8"/>
<path d="M368.50 0.40v2.70M368.50 255.30v-2.70M408.30 0.40v2.70M408.30 255.30v-2.70M448.10 0.40v2.70M448.10 255.30v-2.70M487.90 0.40v2.70M487.90 255.30v-2.70M527.70 0.40v2.70M527.70 255.30v-2.70M567.50 0.40v2.70M567.50 255.30v-2.70M607.30 0.40v2.70M607.30 255.30v-2.70M360.60 32.40h2.70M615.10 32.40h-2.70M360.60 72.18h2.70M615.10 72.18h-2.70M360.60 111.96h2.70M615.10 111.96h-2.70M360.60 151.74h2.70M615.10 151.74h-2.70M360.60 191.52h2.70M615.10 191.52h-2.70M360.60 231.30h2.70M615.10 231.30h-2.70" stroke="#262626" stroke-width="0.90" fill="none"/>
<rect x="360.60" y="0.40" width="254.50" height="254.90" fill="none" stroke="#262626" stroke-width="0.90"/>
<circle cx="372.30" cy="8.80" r="2.70" fill="#1f77b4"/>
<text transform="translate(383.30 10.80) scale(0.958 1)" x="0.12 4.11 8.03 9.77 14.74 19.48 22.87 24.72" y="0" font-family="Liberation Sans" font-size="6.72" stroke="#000" stroke-width="0.10" xml:space="preserve">22 GHz H</text>
<text transform="translate(411.57 12.10) scale(1.021 1)" x="0.00" y="0" font-family="Liberation Sans" font-size="4.70" stroke="#000" stroke-width="0.10" xml:space="preserve">2</text>
<text transform="translate(414.24 10.80) scale(0.987 1)" x="-0.22 4.82 6.88 12.63 16.26 19.53 23.40" y="0" font-family="Liberation Sans" font-size="6.72" stroke="#000" stroke-width="0.10" xml:space="preserve">O maser</text>
<text transform="translate(368.50 264.10) scale(1.021 1)" x="-5.80 -1.16 1.16" y="0" font-family="Liberation Sans" font-size="8.34" stroke="#000" stroke-width="0.20" xml:space="preserve">0.8</text>
<text transform="translate(408.30 264.10) scale(1.021 1)" x="-5.80 -1.16 1.16" y="0" font-family="Liberation Sans" font-size="8.34" stroke="#000" stroke-width="0.20" xml:space="preserve">0.6</text>
<text transform="translate(448.10 264.10) scale(1.021 1)" x="-5.80 -1.16 1.16" y="0" font-family="Liberation Sans" font-size="8.34" stroke="#000" stroke-width="0.20" xml:space="preserve">0.4</text>
<text transform="translate(487.90 264.10) scale(1.021 1)" x="-5.80 -1.16 1.16" y="0" font-family="Liberation Sans" font-size="8.34" stroke="#000" stroke-width="0.20" xml:space="preserve">0.2</text>
<text transform="translate(527.70 264.10) scale(1.021 1)" x="-5.80 -1.16 1.16" y="0" font-family="Liberation Sans" font-size="8.34" stroke="#000" stroke-width="0.20" xml:space="preserve">0.0</text>
<text transform="translate(567.50 264.10) scale(1.098 1)" x="-7.83 -2.71 1.68 3.76" y="0" font-family="Liberation Sans" font-size="8.34" stroke="#000" stroke-width="0.20" xml:space="preserve">−0.2</text>
<text transform="translate(607.30 264.10) scale(1.098 1)" x="-7.83 -2.71 1.68 3.76" y="0" font-family="Liberation Sans" font-size="8.34" stroke="#000" stroke-width="0.20" xml:space="preserve">−0.4</text>
<text transform="translate(357.90 35.90) scale(1.021 1)" x="-11.60 -6.96 -4.64" y="0" font-family="Liberation Sans" font-size="8.34" stroke="#000" stroke-width="0.20" xml:space="preserve">0.0</text>
<text transform="translate(357.90 75.68) scale(1.098 1)" x="-16.07 -10.95 -6.55 -4.48" y="0" font-family="Liberation Sans" font-size="8.34" stroke="#000" stroke-width="0.20" xml:space="preserve">−0.2</text>
<text transform="translate(357.90 115.46) scale(1.098 1)" x="-16.07 -10.95 -6.55 -4.48" y="0" font-family="Liberation Sans" font-size="8.34" stroke="#000" stroke-width="0.20" xml:space="preserve">−0.4</text>
<text transform="translate(357.90 155.24) scale(1.098 1)" x="-16.07 -10.95 -6.55 -4.48" y="0" font-family="Liberation Sans" font-size="8.34" stroke="#000" stroke-width="0.20" xml:space="preserve">−0.6</text>
<text transform="translate(357.90 195.02) scale(1.098 1)" x="-16.07 -10.95 -6.55 -4.48" y="0" font-family="Liberation Sans" font-size="8.34" stroke="#000" stroke-width="0.20" xml:space="preserve">−0.8</text>
<text transform="translate(357.90 234.80) scale(1.098 1)" x="-16.07 -10.95 -6.55 -4.48" y="0" font-family="Liberation Sans" font-size="8.34" stroke="#000" stroke-width="0.20" xml:space="preserve">−1.0</text>
<text transform="translate(487.60 274.00) scale(0.964 1)" x="-25.12 -19.98 -14.39 -8.86 -6.34 -3.37 1.55 4.59 8.75 12.93 17.70 22.06" y="0" font-family="Liberation Sans" font-size="8.40" stroke="#000" stroke-width="0.20" xml:space="preserve">ΔRA (arcsec)</text>
<text transform="translate(335.60 128.30) rotate(-90) scale(0.956 1)" x="-28.13 -22.66 -16.93 -11.94 -6.09 -3.55 -0.55 4.40 7.47 11.67 15.89 20.69 25.08" y="0" font-family="Liberation Sans" font-size="8.40" stroke="#000" stroke-width="0.20" xml:space="preserve">ΔDEC (arcsec)</text>
<polyline points="360.60,389.20 360.85,389.20 361.10,389.20 361.35,389.20 361.60,389.20 361.85,389.20 362.10,389.20 362.35,389.20 362.60,389.20 362.85,389.20 363.10,389.20 363.35,389.20 363.60,389.20 363.85,389.20 364.10,389.20 364.35,389.20 364.60,389.20 364.85,389.19 365.10,389.19 365.35,389.19 365.60,389.19 365.85,389.19 366.10,389.19 366.35,389.19 366.60,389.19 366.85,389.19 367.10,389.19 367.35,389.19 367.60,389.19 367.85,389.19 368.10,389.19 368.35,389.19 368.60,389.19 368.85,389.19 369.10,389.18 369.35,389.18 369.60,389.18 369.85,389.18 370.10,389.18 370.35,389.18 370.60,389.18 370.85,389.18 371.10,389.18 371.35,389.17 371.60,389.17 371.85,389.17 372.10,389.17 372.35,389.17 372.60,389.16 372.85,389.16 373.10,389.16 373.35,389.15 373.60,389.15 373.85,389.14 374.10,389.13 374.35,389.13 374.60,389.12 374.85,389.11 375.10,389.09 375.35,389.08 375.60,389.06 375.85,389.04 376.10,389.01 376.35,388.99 376.60,388.95 376.85,388.92 377.10,388.88 377.35,388.83 377.60,388.78 377.85,388.72 378.10,388.66 378.35,388.60 378.60,388.52 378.85,388.45 379.10,388.37 379.35,388.28 379.60,388.20 379.85,388.11 380.10,388.02 380.35,387.93 380.60,387.84 380.85,387.75 381.10,387.67 381.35,387.59 381.60,387.52 381.85,387.46 382.10,387.41 382.35,387.36 382.60,387.33 382.85,387.31 383.10,387.29 383.35,387.29 383.60,387.31 383.85,387.33 384.10,387.36 384.35,387.40 384.60,387.45 384.85,387.51 385.10,387.58 385.35,387.65 385.60,387.72 385.85,387.80 386.10,387.87 386.35,387.95 386.60,388.03 386.85,388.10 387.10,388.17 387.35,388.24 387.60,388.30 387.85,388.36 388.10,388.41 388.35,388.46 388.60,388.50 388.85,388.54 389.10,388.57 389.35,388.60 389.60,388.62 389.85,388.64 390.10,388.65 390.35,388.67 390.60,388.67 390.85,388.68 391.10,388.68 391.35,388.68 391.60,388.68 391.85,388.68 392.10,388.68 392.35,388.67 392.60,388.67 392.85,388.66 393.10,388.65 393.35,388.64 393.60,388.64 393.85,388.63 394.10,388.62 394.35,388.61 394.60,388.60 394.85,388.60 395.10,388.59 395.35,388.58 395.60,388.57 395.85,388.56 396.10,388.56 396.35,388.55 396.60,388.54 396.85,388.53 397.10,388.53 397.35,388.52 397.60,388.51 397.85,388.51 398.10,388.50 398.35,388.50 398.60,388.49 398.85,388.49 399.10,388.48 399.35,388.48 399.60,388.47 399.85,388.47 400.10,388.46 400.35,388.46 400.60,388.46 400.85,388.45 401.10,388.45 401.35,388.45 401.60,388.45 401.85,388.44 402.10,388.44 402.35,388.44 402.60,388.44 402.85,388.44 403.10,388.44 403.35,388.44 403.60,388.44 403.85,388.44 404.10,388.44 404.35,388.44 404.60,388.45 404.85,388.45 405.10,388.45 405.35,388.45 405.60,388.46 405.85,388.46 406.10,388.46 406.35,388.47 406.60,388.47 406.85,388.47 407.10,388.48 407.35,388.48 407.60,388.49 407.85,388.50 408.10,388.50 408.35,388.51 408.60,388.51 408.85,388.52 409.10,388.53 409.35,388.53 409.60,388.54 409.85,388.55 410.10,388.56 410.35,388.56 410.60,388.57 410.85,388.58 411.10,388.59 411.35,388.60 411.60,388.60 411.85,388.61 412.10,388.62 412.35,388.63 412.60,388.64 412.85,388.65 413.10,388.66 413.35,388.67 413.60,388.68 413.85,388.68 414.10,388.69 414.35,388.70 414.60,388.71 414.85,388.72 415.10,388.73 415.35,388.74 415.60,388.75 415.85,388.76 416.10,388.77 416.35,388.78 416.60,388.79 416.85,388.80 417.10,388.81 417.35,388.82 417.60,388.83 417.85,388.83 418.10,388.84 418.35,388.85 418.60,388.86 418.85,388.87 419.10,388.88 419.35,388.89 419.60,388.90 419.85,388.90 420.10,388.92 420.35,388.94 420.60,388.95 420.85,388.97 421.10,388.98 421.35,388.99 421.60,389.00 421.85,389.01 422.10,389.02 422.35,389.03 422.60,389.03 422.85,389.04 423.10,389.04 423.35,389.04 423.60,389.04 423.85,389.05 424.10,389.05 424.35,389.05 424.60,389.05 424.85,389.05 425.10,389.05 425.35,389.04 425.60,389.04 425.85,389.03 426.10,389.01 426.35,389.00 426.60,388.98 426.85,388.95 427.10,388.92 427.35,388.89 427.60,388.86 427.85,388.82 428.10,388.78 428.35,388.74 428.60,388.69 428.85,388.64 429.10,388.58 429.35,388.52 429.60,388.46 429.85,388.40 430.10,388.33 430.35,388.26 430.60,388.18 430.85,388.10 431.10,388.02 431.35,387.94 431.60,387.85 431.85,387.76 432.10,387.65 432.35,387.47 432.60,387.21 432.85,386.92 433.10,386.62 433.35,386.35 433.60,386.10 433.85,385.87 434.10,385.63 434.35,385.40 434.60,385.17 434.85,384.92 435.10,384.66 435.35,384.39 435.60,384.09 435.85,383.77 436.10,383.41 436.35,383.00 436.60,382.55 436.85,382.06 437.10,381.55 437.35,381.02 437.60,380.47 437.85,379.91 438.10,379.35 438.35,378.76 438.60,378.15 438.85,377.52 439.10,376.86 439.35,376.18 439.60,375.48 439.85,374.75 440.10,373.99 440.35,373.19 440.60,372.36 440.85,371.50 441.10,370.61 441.35,369.69 441.60,368.76 441.85,367.81 442.10,366.83 442.35,365.82 442.60,364.78 442.85,363.72 443.10,362.63 443.35,361.53 443.60,360.41 443.85,359.27 444.10,358.11 444.35,356.92 444.60,355.71 444.85,354.48 445.10,353.23 445.35,351.97 445.60,350.71 445.85,349.45 446.10,348.17 446.35,346.88 446.60,345.57 446.85,344.26 447.10,342.94 447.35,341.63 447.60,340.32 447.85,339.03 448.10,337.75 448.35,336.48 448.60,335.21 448.85,333.94 449.10,332.65 449.35,331.34 449.60,330.00 449.85,328.63 450.10,327.25 450.35,325.84 450.60,324.41 450.85,322.96 451.10,321.49 451.35,320.00 451.60,318.45 451.85,316.86 452.10,315.24 452.35,313.61 452.60,311.99 452.85,310.41 453.10,308.89 453.35,307.41 453.60,305.86 453.85,304.28 454.10,302.72 454.35,301.22 454.60,299.84 454.85,298.62 455.10,297.62 455.35,296.87 455.60,296.22 455.85,295.60 456.10,295.05 456.35,294.58 456.60,294.23 456.85,294.03 457.10,294.04 457.35,294.43 457.60,295.17 457.85,296.17 458.10,297.32 458.35,298.53 458.60,299.70 458.85,300.93 459.10,302.34 459.35,303.89 459.60,305.51 459.85,307.15 460.10,308.77 460.35,310.33 460.60,311.89 460.85,313.46 461.10,315.04 461.35,316.64 461.60,318.25 461.85,319.87 462.10,321.52 462.35,323.19 462.60,324.88 462.85,326.58 463.10,328.28 463.35,329.98 463.60,331.68 463.85,333.36 464.10,335.05 464.35,336.74 464.60,338.43 464.85,340.11 465.10,341.80 465.35,343.49 465.60,345.18 465.85,346.86 466.10,348.55 466.35,350.24 466.60,351.93 466.85,353.62 467.10,355.32 467.35,357.02 467.60,358.73 467.85,360.42 468.10,362.09 468.35,363.73 468.60,365.37 468.85,367.02 469.10,368.66 469.35,370.26 469.60,371.81 469.85,373.27 470.10,374.64 470.35,376.01 470.60,377.36 470.85,378.65 471.10,379.83 471.35,380.86 471.60,381.70 471.85,382.41 472.10,383.08 472.35,383.71 472.60,384.28 472.85,384.79 473.10,385.24 473.35,385.61 473.60,385.91 473.85,386.13 474.10,386.34 474.35,386.55 474.60,386.74 474.85,386.93 475.10,387.11 475.35,387.27 475.60,387.43 475.85,387.57 476.10,387.70 476.35,387.82 476.60,387.92 476.85,388.01 477.10,388.08 477.35,388.14 477.60,388.18 477.85,388.20 478.10,388.20 478.35,388.20 478.60,388.20 478.85,388.19 479.10,388.19 479.35,388.19 479.60,388.18 479.85,388.18 480.10,388.17 480.35,388.17 480.60,388.16 480.85,388.15 481.10,388.15 481.35,388.14 481.60,388.13 481.85,388.13 482.10,388.12 482.35,388.12 482.60,388.11 482.85,388.11 483.10,388.10 483.35,388.10 483.60,388.09 483.85,388.09 484.10,388.09 484.35,388.09 484.60,388.09 484.85,388.08 485.10,388.08 485.35,388.08 485.60,388.08 485.85,388.08 486.10,388.08 486.35,388.08 486.60,388.07 486.85,388.07 487.10,388.07 487.35,388.07 487.60,388.07 487.85,388.07 488.10,388.07 488.35,388.07 488.60,388.07 488.85,388.07 489.10,388.07 489.35,388.07 489.60,388.07 489.85,388.07 490.10,388.07 490.35,388.07 490.60,388.07 490.85,388.07 491.10,388.07 491.35,388.08 491.60,388.08 491.85,388.08 492.10,388.09 492.35,388.09 492.60,388.09 492.85,388.10 493.10,388.10 493.35,388.11 493.60,388.11 493.85,388.11 494.10,388.12 494.35,388.12 494.60,388.13 494.85,388.13 495.10,388.14 495.35,388.15 495.60,388.15 495.85,388.16 496.10,388.16 496.35,388.17 496.60,388.18 496.85,388.18 497.10,388.19 497.35,388.20 497.60,388.20 497.85,388.21 498.10,388.22 498.35,388.22 498.60,388.23 498.85,388.24 499.10,388.25 499.35,388.26 499.60,388.26 499.85,388.27 500.10,388.28 500.35,388.29 500.60,388.30 500.85,388.30 501.10,388.31 501.35,388.32 501.60,388.33 501.85,388.34 502.10,388.35 502.35,388.36 502.60,388.37 502.85,388.38 503.10,388.38 503.35,388.39 503.60,388.40 503.85,388.41 504.10,388.42 504.35,388.43 504.60,388.44 504.85,388.45 505.10,388.46 505.35,388.47 505.60,388.48 505.85,388.49 506.10,388.50 506.35,388.51 506.60,388.52 506.85,388.53 507.10,388.54 507.35,388.54 507.60,388.55 507.85,388.56 508.10,388.57 508.35,388.58 508.60,388.59 508.85,388.60 509.10,388.61 509.35,388.62 509.60,388.63 509.85,388.64 510.10,388.65 510.35,388.66 510.60,388.67 510.85,388.67 511.10,388.68 511.35,388.69 511.60,388.70 511.85,388.71 512.10,388.72 512.35,388.73 512.60,388.74 512.85,388.74 513.10,388.75 513.35,388.76 513.60,388.77 513.85,388.78 514.10,388.79 514.35,388.79 514.60,388.80 514.85,388.81 515.10,388.82 515.35,388.82 515.60,388.83 515.85,388.84 516.10,388.85 516.35,388.85 516.60,388.86 516.85,388.87 517.10,388.88 517.35,388.88 517.60,388.89 517.85,388.90 518.10,388.90 518.35,388.91 518.60,388.92 518.85,388.92 519.10,388.93 519.35,388.94 519.60,388.94 519.85,388.95 520.10,388.95 520.35,388.96 520.60,388.97 520.85,388.97 521.10,388.98 521.35,388.98 521.60,388.99 521.85,388.99 522.10,389.00 522.35,389.00 522.60,389.01 522.85,389.01 523.10,389.02 523.35,389.02 523.60,389.03 523.85,389.03 524.10,389.04 524.35,389.04 524.60,389.05 524.85,389.05 525.10,389.05 525.35,389.06 525.60,389.06 525.85,389.07 526.10,389.07 526.35,389.07 526.60,389.08 526.85,389.08 527.10,389.08 527.35,389.09 527.60,389.09 527.85,389.09 528.10,389.10 528.35,389.10 528.60,389.10 528.85,389.11 529.10,389.11 529.35,389.11 529.60,389.11 529.85,389.12 530.10,389.12 530.35,389.12 530.60,389.12 530.85,389.13 531.10,389.13 531.35,389.13 531.60,389.13 531.85,389.14 532.10,389.14 532.35,389.14 532.60,389.14 532.85,389.14 533.10,389.14 533.35,389.15 533.60,389.15 533.85,389.15 534.10,389.15 534.35,389.15 534.60,389.15 534.85,389.15 535.10,389.16 535.35,389.16 535.60,389.16 535.85,389.16 536.10,389.16 536.35,389.16 536.60,389.16 536.85,389.16 537.10,389.16 537.35,389.16 537.60,389.16 537.85,389.16 538.10,389.16 538.35,389.16 538.60,389.16 538.85,389.15 539.10,389.15 539.35,389.15 539.60,389.15 539.85,389.14 540.10,389.14 540.35,389.14 540.60,389.13 540.85,389.13 541.10,389.12 541.35,389.11 541.60,389.10 541.85,389.10 542.10,389.09 542.35,389.08 542.60,389.07 542.85,389.05 543.10,389.04 543.35,389.03 543.60,389.01 543.85,388.99 544.10,388.98 544.35,388.96 544.60,388.94 544.85,388.91 545.10,388.89 545.35,388.86 545.60,388.84 545.85,388.81 546.10,388.78 546.35,388.74 546.60,388.71 546.85,388.67 547.10,388.63 547.35,388.59 547.60,388.55 547.85,388.51 548.10,388.46 548.35,388.42 548.60,388.37 548.85,388.32 549.10,388.27 549.35,388.22 549.60,388.16 549.85,388.11 550.10,388.05 550.35,387.99 550.60,387.93 550.85,387.88 551.10,387.82 551.35,387.76 551.60,387.70 551.85,387.64 552.10,387.58 552.35,387.52 552.60,387.47 552.85,387.41 553.10,387.36 553.35,387.30 553.60,387.25 553.85,387.20 554.10,387.15 554.35,387.11 554.60,387.07 554.85,387.03 555.10,386.99 555.35,386.96 555.60,386.93 555.85,386.90 556.10,386.88 556.35,386.86 556.60,386.85 556.85,386.83 557.10,386.83 557.35,386.82 557.60,386.83 557.85,386.83 558.10,386.84 558.35,386.85 558.60,386.87 558.85,386.89 559.10,386.91 559.35,386.94 559.60,386.97 559.85,387.01 560.10,387.04 560.35,387.08 560.60,387.13 560.85,387.17 561.10,387.22 561.35,387.27 561.60,387.32 561.85,387.37 562.10,387.42 562.35,387.47 562.60,387.52 562.85,387.57 563.10,387.61 563.35,387.65 563.60,387.69 563.85,387.72 564.10,387.75 564.35,387.76 564.60,387.76 564.85,387.75 565.10,387.73 565.35,387.69 565.60,387.63 565.85,387.54 566.10,387.44 566.35,387.31 566.60,387.15 566.85,386.97 567.10,386.76 567.35,386.53 567.60,386.27 567.85,385.98 568.10,385.68 568.35,385.36 568.60,385.03 568.85,384.70 569.10,384.37 569.35,384.04 569.60,383.73 569.85,383.45 570.10,383.19 570.35,382.97 570.60,382.80 570.85,382.67 571.10,382.59 571.35,382.57 571.60,382.60 571.85,382.69 572.10,382.83 572.35,383.02 572.60,383.25 572.85,383.53 573.10,383.83 573.35,384.17 573.60,384.52 573.85,384.89 574.10,385.26 574.35,385.63 574.60,385.99 574.85,386.35 575.10,386.68 575.35,386.99 575.60,387.28 575.85,387.55 576.10,387.79 576.35,388.01 576.60,388.20 576.85,388.36 577.10,388.51 577.35,388.63 577.60,388.73 577.85,388.82 578.10,388.89 578.35,388.94 578.60,388.99 578.85,389.02 579.10,389.05 579.35,389.07 579.60,389.08 579.85,389.09 580.10,389.09 580.35,389.09 580.60,389.09 580.85,389.08 581.10,389.07 581.35,389.06 581.60,389.05 581.85,389.03 582.10,389.02 582.35,389.00 582.60,388.98 582.85,388.96 583.10,388.94 583.35,388.92 583.60,388.89 583.85,388.86 584.10,388.84 584.35,388.81 584.60,388.78 584.85,388.75 585.10,388.71 585.35,388.68 585.60,388.65 585.85,388.61 586.10,388.58 586.35,388.54 586.60,388.51 586.85,388.47 587.10,388.44 587.35,388.40 587.60,388.37 587.85,388.33 588.10,388.30 588.35,388.27 588.60,388.24 588.85,388.21 589.10,388.19 589.35,388.16 589.60,388.14 589.85,388.12 590.10,388.10 590.35,388.09 590.60,388.08 590.85,388.07 591.10,388.06 591.35,388.06 591.60,388.06 591.85,388.06 592.10,388.07 592.35,388.08 592.60,388.09 592.85,388.11 593.10,388.12 593.35,388.14 593.60,388.17 593.85,388.19 594.10,388.22 594.35,388.25 594.60,388.28 594.85,388.31 595.10,388.34 595.35,388.37 595.60,388.41 595.85,388.44 596.10,388.48 596.35,388.51 596.60,388.55 596.85,388.59 597.10,388.62 597.35,388.65 597.60,388.69 597.85,388.72 598.10,388.75 598.35,388.78 598.60,388.81 598.85,388.84 599.10,388.87 599.35,388.90 599.60,388.92 599.85,388.94 600.10,388.97 600.35,388.99 600.60,389.01 600.85,389.02 601.10,389.04 601.35,389.06 601.60,389.07 601.85,389.08 602.10,389.10 602.35,389.11 602.60,389.12 602.85,389.13 603.10,389.14 603.35,389.14 603.60,389.15 603.85,389.16 604.10,389.16 604.35,389.17 604.60,389.17 604.85,389.17 605.10,389.18 605.35,389.18 605.60,389.18 605.85,389.19 606.10,389.19 606.35,389.19 606.60,389.19 606.85,389.19 607.10,389.19 607.35,389.19 607.60,389.20 607.85,389.20 608.10,389.20 608.35,389.20 608.60,389.20 608.85,389.20 609.10,389.20 609.35,389.20 609.60,389.20 609.85,389.20 610.10,389.20 610.35,389.20 610.60,389.20 610.85,389.20 611.10,389.20 611.35,389.20 611.60,389.20 611.85,389.20 612.10,389.20 612.35,389.20 612.60,389.20 612.85,389.20 613.10,389.20 613.35,389.20 613.60,389.20 613.85,389.20 614.10,389.20 614.35,389.20 614.60,389.20" fill="none" stroke="#000" stroke-width="1.25" stroke-linejoin="round" stroke-linecap="round"/>
<circle cx="375.91" cy="389.03" r="1.60" fill="#0000c4"/>
<circle cx="377.12" cy="388.87" r="1.60" fill="#0000c8"/>
<circle cx="378.34" cy="388.60" r="1.60" fill="#0000cd"/>
<circle cx="379.55" cy="388.21" r="1.60" fill="#0000d6"/>
<circle cx="380.77" cy="387.78" r="1.60" fill="#0000da"/>
<circle cx="381.98" cy="387.43" r="1.60" fill="#0000df"/>
<circle cx="383.20" cy="387.29" r="1.60" fill="#0000e3"/>
<circle cx="384.41" cy="387.42" r="1.60" fill="#0000e8"/>
<circle cx="385.63" cy="387.73" r="1.60" fill="#0000f1"/>
<circle cx="386.84" cy="388.10" r="1.60" fill="#0000f6"/>
<circle cx="388.06" cy="388.40" r="1.60" fill="#0000fa"/>
<circle cx="389.27" cy="388.59" r="1.60" fill="#0000ff"/>
<circle cx="390.49" cy="388.67" r="1.60" fill="#0000ff"/>
<circle cx="391.70" cy="388.68" r="1.60" fill="#0000ff"/>
<circle cx="392.92" cy="388.66" r="1.60" fill="#0001ff"/>
<circle cx="394.13" cy="388.62" r="1.60" fill="#0004ff"/>
<circle cx="395.35" cy="388.58" r="1.60" fill="#0009ff"/>
<circle cx="396.56" cy="388.54" r="1.60" fill="#0011ff"/>
<circle cx="397.78" cy="388.51" r="1.60" fill="#0014ff"/>
<circle cx="398.99" cy="388.48" r="1.60" fill="#0019ff"/>
<circle cx="400.21" cy="388.46" r="1.60" fill="#001dff"/>
<circle cx="401.42" cy="388.45" r="1.60" fill="#0021ff"/>
<circle cx="402.64" cy="388.44" r="1.60" fill="#0029ff"/>
<circle cx="403.85" cy="388.44" r="1.60" fill="#002dff"/>
<circle cx="405.07" cy="388.45" r="1.60" fill="#0031ff"/>
<circle cx="406.28" cy="388.47" r="1.60" fill="#0034ff"/>
<circle cx="407.50" cy="388.49" r="1.60" fill="#003dff"/>
<circle cx="408.71" cy="388.52" r="1.60" fill="#0041ff"/>
<circle cx="409.93" cy="388.55" r="1.60" fill="#0044ff"/>
<circle cx="411.14" cy="388.59" r="1.60" fill="#0049ff"/>
<circle cx="412.36" cy="388.63" r="1.60" fill="#004dff"/>
<circle cx="413.57" cy="388.67" r="1.60" fill="#0054ff"/>
<circle cx="414.79" cy="388.72" r="1.60" fill="#0059ff"/>
<circle cx="416.00" cy="388.77" r="1.60" fill="#005dff"/>
<circle cx="417.22" cy="388.81" r="1.60" fill="#0061ff"/>
<circle cx="418.43" cy="388.86" r="1.60" fill="#0069ff"/>
<circle cx="419.65" cy="388.90" r="1.60" fill="#006dff"/>
<circle cx="420.86" cy="388.97" r="1.60" fill="#0071ff"/>
<circle cx="422.08" cy="389.02" r="1.60" fill="#0074ff"/>
<circle cx="423.29" cy="389.04" r="1.60" fill="#0079ff"/>
<circle cx="424.51" cy="389.05" r="1.60" fill="#0081ff"/>
<circle cx="425.72" cy="389.03" r="1.60" fill="#0085ff"/>
<circle cx="426.94" cy="388.94" r="1.60" fill="#0088ff"/>
<circle cx="428.15" cy="388.77" r="1.60" fill="#008dff"/>
<circle cx="429.37" cy="388.52" r="1.60" fill="#0091ff"/>
<circle cx="430.58" cy="388.19" r="1.60" fill="#0099ff"/>
<circle cx="431.80" cy="387.78" r="1.60" fill="#009dff"/>
<circle cx="433.01" cy="386.72" r="1.60" fill="#00a1ff"/>
<circle cx="434.23" cy="385.52" r="1.60" fill="#00a5ff"/>
<circle cx="435.44" cy="384.28" r="1.60" fill="#00adff"/>
<circle cx="436.66" cy="382.44" r="1.60" fill="#00b1ff"/>
<circle cx="471.89" cy="382.53" r="1.60" fill="#46ffb1"/>
<circle cx="473.11" cy="385.25" r="1.60" fill="#49ffad"/>
<circle cx="474.32" cy="386.53" r="1.60" fill="#50ffa7"/>
<circle cx="475.54" cy="387.39" r="1.60" fill="#53ffa4"/>
<circle cx="476.75" cy="387.98" r="1.60" fill="#56ffa0"/>
<circle cx="477.97" cy="388.20" r="1.60" fill="#5aff9d"/>
<circle cx="479.18" cy="388.19" r="1.60" fill="#5dff9a"/>
<circle cx="480.40" cy="388.16" r="1.60" fill="#63ff94"/>
<circle cx="481.61" cy="388.13" r="1.60" fill="#66ff90"/>
<circle cx="482.83" cy="388.11" r="1.60" fill="#6aff8d"/>
<circle cx="484.04" cy="388.09" r="1.60" fill="#6dff8a"/>
<circle cx="485.26" cy="388.08" r="1.60" fill="#73ff83"/>
<circle cx="486.47" cy="388.08" r="1.60" fill="#77ff80"/>
<circle cx="487.69" cy="388.07" r="1.60" fill="#7aff7d"/>
<circle cx="488.90" cy="388.07" r="1.60" fill="#7dff7a"/>
<circle cx="490.12" cy="388.07" r="1.60" fill="#80ff77"/>
<circle cx="491.33" cy="388.08" r="1.60" fill="#87ff70"/>
<circle cx="492.55" cy="388.09" r="1.60" fill="#8aff6d"/>
<circle cx="493.76" cy="388.11" r="1.60" fill="#8dff6a"/>
<circle cx="494.98" cy="388.14" r="1.60" fill="#90ff66"/>
<circle cx="496.19" cy="388.17" r="1.60" fill="#97ff60"/>
<circle cx="497.41" cy="388.20" r="1.60" fill="#9aff5d"/>
<circle cx="498.62" cy="388.23" r="1.60" fill="#9dff5a"/>
<circle cx="499.84" cy="388.27" r="1.60" fill="#a0ff56"/>
<circle cx="501.05" cy="388.31" r="1.60" fill="#a4ff53"/>
<circle cx="502.27" cy="388.35" r="1.60" fill="#aaff4d"/>
<circle cx="503.48" cy="388.40" r="1.60" fill="#adff49"/>
<circle cx="504.70" cy="388.44" r="1.60" fill="#b1ff46"/>
<circle cx="505.91" cy="388.49" r="1.60" fill="#b4ff43"/>
<circle cx="507.13" cy="388.54" r="1.60" fill="#baff3c"/>
<circle cx="508.34" cy="388.58" r="1.60" fill="#beff39"/>
<circle cx="509.56" cy="388.63" r="1.60" fill="#c1ff36"/>
<circle cx="510.77" cy="388.67" r="1.60" fill="#c4ff33"/>
<circle cx="511.99" cy="388.71" r="1.60" fill="#c7ff30"/>
<circle cx="513.20" cy="388.76" r="1.60" fill="#ceff29"/>
<circle cx="514.42" cy="388.80" r="1.60" fill="#d1ff26"/>
<circle cx="515.63" cy="388.83" r="1.60" fill="#d4ff23"/>
<circle cx="516.85" cy="388.87" r="1.60" fill="#d7ff1f"/>
<circle cx="518.06" cy="388.90" r="1.60" fill="#dbff1c"/>
<circle cx="519.28" cy="388.93" r="1.60" fill="#e1ff16"/>
<circle cx="520.49" cy="388.96" r="1.60" fill="#e4ff13"/>
<circle cx="521.71" cy="388.99" r="1.60" fill="#e7ff0f"/>
<circle cx="522.92" cy="389.01" r="1.60" fill="#ebff0c"/>
<circle cx="524.14" cy="389.04" r="1.60" fill="#f1fc06"/>
<circle cx="525.35" cy="389.06" r="1.60" fill="#f4f802"/>
<circle cx="526.57" cy="389.08" r="1.60" fill="#f8f500"/>
<circle cx="527.78" cy="389.09" r="1.60" fill="#fbf100"/>
<circle cx="529.00" cy="389.11" r="1.60" fill="#feed00"/>
<circle cx="530.21" cy="389.12" r="1.60" fill="#ffe600"/>
<circle cx="531.43" cy="389.13" r="1.60" fill="#ffe200"/>
<circle cx="532.64" cy="389.14" r="1.60" fill="#ffde00"/>
<circle cx="533.86" cy="389.15" r="1.60" fill="#ffdb00"/>
<circle cx="535.07" cy="389.16" r="1.60" fill="#ffd300"/>
<circle cx="536.29" cy="389.16" r="1.60" fill="#ffd000"/>
<circle cx="537.50" cy="389.16" r="1.60" fill="#ffcc00"/>
<circle cx="538.72" cy="389.15" r="1.60" fill="#ffc800"/>
<circle cx="539.93" cy="389.14" r="1.60" fill="#ffc400"/>
<circle cx="541.15" cy="389.12" r="1.60" fill="#ffbd00"/>
<circle cx="542.36" cy="389.08" r="1.60" fill="#ffb900"/>
<circle cx="543.58" cy="389.01" r="1.60" fill="#ffb600"/>
<circle cx="544.79" cy="388.92" r="1.60" fill="#ffb200"/>
<circle cx="546.01" cy="388.79" r="1.60" fill="#ffab00"/>
<circle cx="547.22" cy="388.61" r="1.60" fill="#ffa700"/>
<circle cx="548.44" cy="388.40" r="1.60" fill="#ffa300"/>
<circle cx="549.65" cy="388.15" r="1.60" fill="#ff9f00"/>
<circle cx="550.87" cy="387.87" r="1.60" fill="#ff9c00"/>
<circle cx="552.08" cy="387.59" r="1.60" fill="#ff9400"/>
<circle cx="553.30" cy="387.31" r="1.60" fill="#ff9100"/>
<circle cx="554.51" cy="387.08" r="1.60" fill="#ff8d00"/>
<circle cx="555.73" cy="386.92" r="1.60" fill="#ff8900"/>
<circle cx="556.94" cy="386.83" r="1.60" fill="#ff8600"/>
<circle cx="558.16" cy="386.84" r="1.60" fill="#ff7e00"/>
<circle cx="559.37" cy="386.94" r="1.60" fill="#ff7a00"/>
<circle cx="560.59" cy="387.12" r="1.60" fill="#ff7700"/>
<circle cx="561.80" cy="387.36" r="1.60" fill="#ff7300"/>
<circle cx="563.02" cy="387.60" r="1.60" fill="#ff6c00"/>
<circle cx="564.23" cy="387.75" r="1.60" fill="#ff6800"/>
<circle cx="565.45" cy="387.67" r="1.60" fill="#ff6400"/>
<circle cx="566.66" cy="387.11" r="1.60" fill="#ff6000"/>
<circle cx="567.88" cy="385.95" r="1.60" fill="#ff5d00"/>
<circle cx="569.09" cy="384.37" r="1.60" fill="#ff5500"/>
<circle cx="570.31" cy="383.01" r="1.60" fill="#ff5200"/>
<circle cx="571.52" cy="382.59" r="1.60" fill="#ff4e00"/>
<circle cx="572.74" cy="383.40" r="1.60" fill="#ff4a00"/>
<circle cx="573.95" cy="385.04" r="1.60" fill="#ff4300"/>
<circle cx="575.17" cy="386.77" r="1.60" fill="#ff3f00"/>
<circle cx="576.38" cy="388.03" r="1.60" fill="#ff3b00"/>
<circle cx="577.60" cy="388.73" r="1.60" fill="#ff3800"/>
<circle cx="578.81" cy="389.02" r="1.60" fill="#ff3400"/>
<circle cx="580.03" cy="389.09" r="1.60" fill="#ff2d00"/>
<circle cx="581.24" cy="389.07" r="1.60" fill="#ff2900"/>
<circle cx="582.46" cy="388.99" r="1.60" fill="#ff2500"/>
<circle cx="583.67" cy="388.88" r="1.60" fill="#ff2200"/>
<circle cx="584.89" cy="388.74" r="1.60" fill="#ff1a00"/>
<circle cx="586.10" cy="388.58" r="1.60" fill="#ff1600"/>
<circle cx="587.32" cy="388.41" r="1.60" fill="#ff1300"/>
<circle cx="588.53" cy="388.25" r="1.60" fill="#fa0f00"/>
<circle cx="589.75" cy="388.13" r="1.60" fill="#f60b00"/>
<circle cx="590.96" cy="388.07" r="1.60" fill="#ed0400"/>
<circle cx="592.18" cy="388.07" r="1.60" fill="#e80000"/>
<circle cx="593.39" cy="388.15" r="1.60" fill="#e40000"/>
<circle cx="594.61" cy="388.28" r="1.60" fill="#df0000"/>
<circle cx="595.82" cy="388.44" r="1.60" fill="#d60000"/>
<circle cx="597.04" cy="388.61" r="1.60" fill="#d10000"/>
<circle cx="598.25" cy="388.77" r="1.60" fill="#cd0000"/>
<circle cx="599.47" cy="388.91" r="1.60" fill="#c80000"/>
<circle cx="600.68" cy="389.01" r="1.60" fill="#c40000"/>
<circle cx="601.90" cy="389.09" r="1.60" fill="#bb0000"/>
<circle cx="437.60" cy="387.60" r="1.60" fill="#00b5ff"/>
<circle cx="438.80" cy="386.90" r="1.60" fill="#00b9ff"/>
<circle cx="439.90" cy="385.60" r="1.60" fill="#00bdff"/>
<circle cx="441.80" cy="388.30" r="1.60" fill="#00c5ff"/>
<circle cx="441.20" cy="384.70" r="1.60" fill="#00c1ff"/>
<circle cx="440.50" cy="380.50" r="1.60" fill="#00c1ff"/>
<circle cx="441.70" cy="376.50" r="1.60" fill="#00c5ff"/>
<circle cx="443.00" cy="371.90" r="1.60" fill="#00c8ff"/>
<circle cx="444.10" cy="367.00" r="1.60" fill="#00cdff"/>
<circle cx="445.40" cy="361.50" r="1.60" fill="#00d5ff"/>
<circle cx="446.70" cy="355.20" r="1.60" fill="#00d9ff"/>
<circle cx="448.10" cy="349.00" r="1.60" fill="#00ddfe"/>
<circle cx="449.20" cy="342.10" r="1.60" fill="#00e1fb"/>
<circle cx="450.30" cy="334.90" r="1.60" fill="#00e5f8"/>
<circle cx="451.10" cy="327.20" r="1.60" fill="#02e8f4"/>
<circle cx="452.70" cy="318.60" r="1.60" fill="#09f1ee"/>
<circle cx="454.30" cy="310.00" r="1.60" fill="#0ff9e7"/>
<circle cx="455.40" cy="302.40" r="1.60" fill="#13fde4"/>
<circle cx="456.00" cy="302.90" r="1.60" fill="#13fde4"/>
<circle cx="457.10" cy="299.90" r="1.60" fill="#16ffe1"/>
<circle cx="459.20" cy="305.60" r="1.60" fill="#1cffdb"/>
<circle cx="460.50" cy="312.70" r="1.60" fill="#23ffd4"/>
<circle cx="461.90" cy="321.10" r="1.60" fill="#26ffd1"/>
<circle cx="463.20" cy="329.70" r="1.60" fill="#29ffce"/>
<circle cx="464.60" cy="338.50" r="1.60" fill="#30ffc7"/>
<circle cx="465.60" cy="347.20" r="1.60" fill="#33ffc4"/>
<circle cx="466.90" cy="356.30" r="1.60" fill="#36ffc1"/>
<circle cx="468.10" cy="365.50" r="1.60" fill="#39ffbe"/>
<circle cx="469.40" cy="373.60" r="1.60" fill="#40ffb7"/>
<circle cx="470.70" cy="380.10" r="1.60" fill="#43ffb4"/>
<circle cx="471.30" cy="384.00" r="1.60" fill="#46ffb1"/>
<path d="M384.90 289.40v2.70M409.20 289.40v2.70M433.50 289.40v2.70M457.80 289.40v2.70M482.10 289.40v2.70M506.40 289.40v2.70M530.70 289.40v2.70M555.00 289.40v2.70M579.30 289.40v2.70M603.60 289.40v2.70M360.60 389.20h2.70M614.80 389.20h-2.70M360.60 370.20h2.70M614.80 370.20h-2.70M360.60 351.20h2.70M614.80 351.20h-2.70M360.60 332.20h2.70M614.80 332.20h-2.70M360.60 313.20h2.70M614.80 313.20h-2.70M360.60 294.20h2.70M614.80 294.20h-2.70" stroke="#262626" stroke-width="0.90" fill="none"/>
<rect x="360.60" y="289.40" width="254.20" height="105.20" fill="none" stroke="#262626" stroke-width="0.90"/>
<polyline points="366.00,297.20 378.40,297.20" fill="none" stroke="#000" stroke-width="1.25" stroke-linejoin="round" stroke-linecap="round"/>
<text transform="translate(383.30 299.40) scale(0.958 1)" x="0.12 4.11 8.03 9.77 14.74 19.48 22.87 24.72" y="0" font-family="Liberation Sans" font-size="6.72" stroke="#000" stroke-width="0.10" xml:space="preserve">22 GHz H</text>
<text transform="translate(411.57 300.70) scale(1.021 1)" x="0.00" y="0" font-family="Liberation Sans" font-size="4.70" stroke="#000" stroke-width="0.10" xml:space="preserve">2</text>
<text transform="translate(414.24 299.40) scale(0.987 1)" x="-0.22 4.82 6.88 12.63 16.26 19.53 23.40" y="0" font-family="Liberation Sans" font-size="6.72" stroke="#000" stroke-width="0.10" xml:space="preserve">O maser</text>
<circle cx="372.30" cy="306.80" r="1.75" fill="#1f77b4"/>
<text transform="translate(383.30 308.90) scale(0.958 1)" x="0.12 4.11 8.03 9.77 14.74 19.48 22.87 24.72" y="0" font-family="Liberation Sans" font-size="6.72" stroke="#000" stroke-width="0.10" xml:space="preserve">22 GHz H</text>
<text transform="translate(411.57 310.20) scale(1.021 1)" x="0.00" y="0" font-family="Liberation Sans" font-size="4.70" stroke="#000" stroke-width="0.10" xml:space="preserve">2</text>
<text transform="translate(414.24 308.90) scale(0.987 1)" x="-0.22 4.82 6.88 12.63 16.26 19.53 23.40" y="0" font-family="Liberation Sans" font-size="6.72" stroke="#000" stroke-width="0.10" xml:space="preserve">O maser</text>
<text transform="translate(357.90 392.70) scale(1.021 1)" x="-11.60 -6.96 -4.64" y="0" font-family="Liberation Sans" font-size="8.34" stroke="#000" stroke-width="0.20" xml:space="preserve">0.0</text>
<text transform="translate(357.90 373.70) scale(1.021 1)" x="-11.60 -6.96 -4.64" y="0" font-family="Liberation Sans" font-size="8.34" stroke="#000" stroke-width="0.20" xml:space="preserve">0.2</text>
<text transform="translate(357.90 354.70) scale(1.021 1)" x="-11.60 -6.96 -4.64" y="0" font-family="Liberation Sans" font-size="8.34" stroke="#000" stroke-width="0.20" xml:space="preserve">0.4</text>
<text transform="translate(357.90 335.70) scale(1.021 1)" x="-11.60 -6.96 -4.64" y="0" font-family="Liberation Sans" font-size="8.34" stroke="#000" stroke-width="0.20" xml:space="preserve">0.6</text>
<text transform="translate(357.90 316.70) scale(1.021 1)" x="-11.60 -6.96 -4.64" y="0" font-family="Liberation Sans" font-size="8.34" stroke="#000" stroke-width="0.20" xml:space="preserve">0.8</text>
<text transform="translate(357.90 297.70) scale(1.021 1)" x="-11.60 -6.96 -4.64" y="0" font-family="Liberation Sans" font-size="8.34" stroke="#000" stroke-width="0.20" xml:space="preserve">1.0</text>
<text transform="translate(341.60 342.00) rotate(-90) scale(1.006 1)" x="-45.76 -39.99 -35.24 -32.17 -25.09 -20.37 -18.29 -16.47 -12.45 -7.79 -3.07 -1.14 3.68 5.67 10.48 14.81 17.00 22.86 27.52 32.06 36.21 38.47 41.21" y="0" font-family="Liberation Sans" font-size="8.40" stroke="#000" stroke-width="0.20" xml:space="preserve">Normalized Flux Density</text>
<rect x="360.60" y="394.60" width="254.20" height="12.80" fill="url(#jg)"/>
<rect x="360.60" y="394.60" width="254.20" height="12.80" fill="none" stroke="#262626" stroke-width="0.90"/>
<path d="M360.60 407.40v2.70M384.90 394.60v-2.70M384.90 407.40v2.70M409.20 394.60v-2.70M409.20 407.40v2.70M433.50 394.60v-2.70M433.50 407.40v2.70M457.80 394.60v-2.70M457.80 407.40v2.70M482.10 394.60v-2.70M482.10 407.40v2.70M506.40 394.60v-2.70M506.40 407.40v2.70M530.70 394.60v-2.70M530.70 407.40v2.70M555.00 394.60v-2.70M555.00 407.40v2.70M579.30 394.60v-2.70M579.30 407.40v2.70M603.60 394.60v-2.70M603.60 407.40v2.70" stroke="#262626" stroke-width="0.90" fill="none"/>
<text transform="translate(360.60 418.50) scale(1.021 1)" x="-4.64 0.00" y="0" font-family="Liberation Sans" font-size="8.34" stroke="#000" stroke-width="0.20" xml:space="preserve">35</text>
<text transform="translate(384.90 418.50) scale(1.021 1)" x="-4.64 0.00" y="0" font-family="Liberation Sans" font-size="8.34" stroke="#000" stroke-width="0.20" xml:space="preserve">37</text>
<text transform="translate(409.20 418.50) scale(1.021 1)" x="-4.64 0.00" y="0" font-family="Liberation Sans" font-size="8.34" stroke="#000" stroke-width="0.20" xml:space="preserve">39</text>
<text transform="translate(433.50 418.50) scale(1.021 1)" x="-4.64 0.00" y="0" font-family="Liberation Sans" font-size="8.34" stroke="#000" stroke-width="0.20" xml:space="preserve">41</text>
<text transform="translate(457.80 418.50) scale(1.021 1)" x="-4.64 0.00" y="0" font-family="Liberation Sans" font-size="8.34" stroke="#000" stroke-width="0.20" xml:space="preserve">43</text>
<text transform="translate(482.10 418.50) scale(1.021 1)" x="-4.64 0.00" y="0" font-family="Liberation Sans" font-size="8.34" stroke="#000" stroke-width="0.20" xml:space="preserve">45</text>
<text transform="translate(506.40 418.50) scale(1.021 1)" x="-4.64 0.00" y="0" font-family="Liberation Sans" font-size="8.34" stroke="#000" stroke-width="0.20" xml:space="preserve">47</text>
<text transform="translate(530.70 418.50) scale(1.021 1)" x="-4.64 0.00" y="0" font-family="Liberation Sans" font-size="8.34" stroke="#000" stroke-width="0.20" xml:space="preserve">49</text>
<text transform="translate(555.00 418.50) scale(1.021 1)" x="-4.64 0.00" y="0" font-family="Liberation Sans" font-size="8.34" stroke="#000" stroke-width="0.20" xml:space="preserve">51</text>
<text transform="translate(579.30 418.50) scale(1.021 1)" x="-4.64 0.00" y="0" font-family="Liberation Sans" font-size="8.34" stroke="#000" stroke-width="0.20" xml:space="preserve">53</text>
<text transform="translate(603.60 418.50) scale(1.021 1)" x="-4.64 0.00" y="0" font-family="Liberation Sans" font-size="8.34" stroke="#000" stroke-width="0.20" xml:space="preserve">55</text>
<text transform="translate(466.77 429.50) scale(0.916 1)" x="0.00" y="0" font-family="Liberation Sans" font-size="8.40" font-style="italic" stroke="#000" stroke-width="0.20" xml:space="preserve">V</text>
<text transform="translate(472.20 431.30) scale(0.866 1)" x="0.05 3.34 7.21" y="0" font-family="Liberation Sans" font-size="5.88" font-style="italic" stroke="#000" stroke-width="0.10" xml:space="preserve">LSR</text>
<text transform="translate(482.31 429.50) scale(1.026 1)" x="-0.00 2.35 5.19 9.47 16.60 18.80 22.83" y="0" font-family="Liberation Sans" font-size="8.40" stroke="#000" stroke-width="0.20" xml:space="preserve"> (km/s)</text>
<text x="473.10" y="458.00" font-family="Liberation Serif" font-size="14.60" text-anchor="middle" textLength="17.20" lengthAdjust="spacingAndGlyphs" stroke="#000" stroke-width="0.12">(b)</text>
<circle cx="210.00" cy="553.40" r="1.20" fill="#40ff9a"/>
<circle cx="311.60" cy="617.60" r="1.40" fill="#ff8a00"/>
<circle cx="394.60" cy="651.60" r="4.10" fill="#00a0ff"/>
<circle cx="412.20" cy="638.70" r="3.60" fill="#0050f0"/>
<circle cx="414.60" cy="638.20" r="3.50" fill="#0058fa"/>
<path d="M191.28 479.80v2.70M191.28 741.50v-2.70M220.34 479.80v2.70M220.34 741.50v-2.70M249.40 479.80v2.70M249.40 741.50v-2.70M278.46 479.80v2.70M278.46 741.50v-2.70M307.52 479.80v2.70M307.52 741.50v-2.70M336.58 479.80v2.70M336.58 741.50v-2.70M365.64 479.80v2.70M365.64 741.50v-2.70M394.70 479.80v2.70M394.70 741.50v-2.70M423.76 479.80v2.70M423.76 741.50v-2.70M179.60 506.25h2.70M435.60 506.25h-2.70M179.60 535.30h2.70M435.60 535.30h-2.70M179.60 564.35h2.70M435.60 564.35h-2.70M179.60 593.40h2.70M435.60 593.40h-2.70M179.60 622.45h2.70M435.60 622.45h-2.70M179.60 651.50h2.70M435.60 651.50h-2.70M179.60 680.55h2.70M435.60 680.55h-2.70M179.60 709.60h2.70M435.60 709.60h-2.70M179.60 738.65h2.70M435.60 738.65h-2.70" stroke="#262626" stroke-width="0.90" fill="none"/>
<rect x="179.60" y="479.80" width="256.00" height="261.70" fill="none" stroke="#262626" stroke-width="0.90"/>
<circle cx="191.10" cy="488.50" r="3.10" fill="#1f77b4"/>
<text transform="translate(202.20 490.00) scale(0.954 1)" x="0.14 4.24 8.27 10.07 15.18 20.07 23.55 25.58 29.07 30.89 36.45" y="0" font-family="Liberation Sans" font-size="6.89" stroke="#000" stroke-width="0.10" xml:space="preserve">44 GHz cIMM</text>
<text transform="translate(191.28 751.30) scale(1.021 1)" x="-2.32" y="0" font-family="Liberation Sans" font-size="8.34" stroke="#000" stroke-width="0.20" xml:space="preserve">7</text>
<text transform="translate(220.34 751.30) scale(1.021 1)" x="-2.32" y="0" font-family="Liberation Sans" font-size="8.34" stroke="#000" stroke-width="0.20" xml:space="preserve">6</text>
<text transform="translate(249.40 751.30) scale(1.021 1)" x="-2.32" y="0" font-family="Liberation Sans" font-size="8.34" stroke="#000" stroke-width="0.20" xml:space="preserve">5</text>
<text transform="translate(278.46 751.30) scale(1.021 1)" x="-2.32" y="0" font-family="Liberation Sans" font-size="8.34" stroke="#000" stroke-width="0.20" xml:space="preserve">4</text>
<text transform="translate(307.52 751.30) scale(1.021 1)" x="-2.32" y="0" font-family="Liberation Sans" font-size="8.34" stroke="#000" stroke-width="0.20" xml:space="preserve">3</text>
<text transform="translate(336.58 751.30) scale(1.021 1)" x="-2.32" y="0" font-family="Liberation Sans" font-size="8.34" stroke="#000" stroke-width="0.20" xml:space="preserve">2</text>
<text transform="translate(365.64 751.30) scale(1.021 1)" x="-2.32" y="0" font-family="Liberation Sans" font-size="8.34" stroke="#000" stroke-width="0.20" xml:space="preserve">1</text>
<text transform="translate(394.70 751.30) scale(1.021 1)" x="-2.32" y="0" font-family="Liberation Sans" font-size="8.34" stroke="#000" stroke-width="0.20" xml:space="preserve">0</text>
<text transform="translate(423.76 751.30) scale(1.154 1)" x="-4.49 0.38" y="0" font-family="Liberation Sans" font-size="8.34" stroke="#000" stroke-width="0.20" xml:space="preserve">−1</text>
<text transform="translate(177.30 509.75) scale(1.021 1)" x="-4.64" y="0" font-family="Liberation Sans" font-size="8.34" stroke="#000" stroke-width="0.20" xml:space="preserve">5</text>
<text transform="translate(177.30 538.80) scale(1.021 1)" x="-4.64" y="0" font-family="Liberation Sans" font-size="8.34" stroke="#000" stroke-width="0.20" xml:space="preserve">4</text>
<text transform="translate(177.30 567.85) scale(1.021 1)" x="-4.64" y="0" font-family="Liberation Sans" font-size="8.34" stroke="#000" stroke-width="0.20" xml:space="preserve">3</text>
<text transform="translate(177.30 596.90) scale(1.021 1)" x="-4.64" y="0" font-family="Liberation Sans" font-size="8.34" stroke="#000" stroke-width="0.20" xml:space="preserve">2</text>
<text transform="translate(177.30 625.95) scale(1.021 1)" x="-4.64" y="0" font-family="Liberation Sans" font-size="8.34" stroke="#000" stroke-width="0.20" xml:space="preserve">1</text>
<text transform="translate(177.30 655.00) scale(1.021 1)" x="-4.64" y="0" font-family="Liberation Sans" font-size="8.34" stroke="#000" stroke-width="0.20" xml:space="preserve">0</text>
<text transform="translate(177.30 684.05) scale(1.154 1)" x="-9.25 -4.37" y="0" font-family="Liberation Sans" font-size="8.34" stroke="#000" stroke-width="0.20" xml:space="preserve">−1</text>
<text transform="translate(177.30 713.10) scale(1.154 1)" x="-9.25 -4.37" y="0" font-family="Liberation Sans" font-size="8.34" stroke="#000" stroke-width="0.20" xml:space="preserve">−2</text>
<text transform="translate(177.30 742.15) scale(1.154 1)" x="-9.25 -4.37" y="0" font-family="Liberation Sans" font-size="8.34" stroke="#000" stroke-width="0.20" xml:space="preserve">−3</text>
<text transform="translate(307.30 760.80) scale(0.964 1)" x="-25.12 -19.98 -14.39 -8.86 -6.34 -3.37 1.55 4.59 8.75 12.93 17.70 22.06" y="0" font-family="Liberation Sans" font-size="8.40" stroke="#000" stroke-width="0.20" xml:space="preserve">ΔRA (arcsec)</text>
<text transform="translate(161.80 611.00) rotate(-90) scale(0.956 1)" x="-28.13 -22.66 -16.93 -11.94 -6.09 -3.55 -0.55 4.40 7.47 11.67 15.89 20.69 25.08" y="0" font-family="Liberation Sans" font-size="8.40" stroke="#000" stroke-width="0.20" xml:space="preserve">ΔDEC (arcsec)</text>
<polyline points="179.60,872.90 182.00,872.60 186.80,871.30 199.50,871.70 205.00,871.20 209.20,870.30 215.00,867.40 220.90,863.10 226.80,847.90 231.00,836.20 234.50,812.90 237.50,798.60 241.40,813.80 244.70,816.80 248.20,801.20 251.10,782.70 254.40,777.80 257.00,799.20 258.90,820.70 261.40,857.70 265.00,864.50 268.60,867.40 275.50,869.40 281.30,871.70 282.60,872.30 289.10,867.40 291.70,866.00 296.90,862.90 300.80,863.90 313.80,868.00 326.80,870.10 332.00,870.90 336.00,870.30 345.00,871.20 352.00,870.50 358.00,870.60 363.10,868.60 370.90,862.10 378.70,859.50 389.00,859.00 394.30,861.30 402.00,864.70 412.50,868.00 418.00,869.60 422.90,869.90 428.00,871.20 435.60,870.60" fill="none" stroke="#000" stroke-width="1.25" stroke-linejoin="round" stroke-linecap="round"/>
<circle cx="227.30" cy="840.70" r="1.60" fill="#003dff"/>
<circle cx="231.00" cy="822.00" r="1.60" fill="#004dff"/>
<circle cx="234.50" cy="803.10" r="1.60" fill="#0059ff"/>
<circle cx="241.00" cy="805.70" r="1.60" fill="#0074ff"/>
<circle cx="244.30" cy="825.30" r="1.60" fill="#0081ff"/>
<circle cx="247.80" cy="834.30" r="1.60" fill="#0091ff"/>
<circle cx="247.80" cy="836.60" r="1.60" fill="#0091ff"/>
<circle cx="251.30" cy="799.20" r="1.60" fill="#009dff"/>
<circle cx="254.60" cy="782.10" r="1.60" fill="#00adff"/>
<circle cx="257.90" cy="816.80" r="1.60" fill="#00b9ff"/>
<circle cx="291.70" cy="866.50" r="1.60" fill="#49ffad"/>
<circle cx="295.00" cy="863.90" r="1.60" fill="#53ffa4"/>
<circle cx="298.20" cy="862.90" r="1.60" fill="#5dff9a"/>
<circle cx="301.30" cy="864.70" r="1.60" fill="#66ff90"/>
<circle cx="304.70" cy="866.00" r="1.60" fill="#73ff83"/>
<circle cx="308.00" cy="867.30" r="1.60" fill="#7dff7a"/>
<circle cx="311.20" cy="868.60" r="1.60" fill="#87ff70"/>
<circle cx="369.60" cy="866.80" r="1.60" fill="#ff9c00"/>
<circle cx="373.00" cy="864.70" r="1.60" fill="#ff9100"/>
<circle cx="376.60" cy="862.90" r="1.60" fill="#ff8200"/>
<circle cx="380.00" cy="861.60" r="1.60" fill="#ff7700"/>
<circle cx="383.40" cy="860.80" r="1.60" fill="#ff6c00"/>
<circle cx="386.50" cy="860.80" r="1.60" fill="#ff6000"/>
<circle cx="389.60" cy="861.60" r="1.60" fill="#ff5200"/>
<circle cx="393.50" cy="862.90" r="1.60" fill="#ff4700"/>
<circle cx="396.90" cy="864.20" r="1.60" fill="#ff3800"/>
<path d="M211.60 773.10v2.70M243.60 773.10v2.70M275.60 773.10v2.70M307.60 773.10v2.70M339.60 773.10v2.70M371.60 773.10v2.70M403.60 773.10v2.70M179.60 873.20h2.70M435.60 873.20h-2.70M179.60 854.92h2.70M435.60 854.92h-2.70M179.60 836.64h2.70M435.60 836.64h-2.70M179.60 818.36h2.70M435.60 818.36h-2.70M179.60 800.08h2.70M435.60 800.08h-2.70M179.60 781.80h2.70M435.60 781.80h-2.70" stroke="#262626" stroke-width="0.90" fill="none"/>
<rect x="179.60" y="773.10" width="256.00" height="106.00" fill="none" stroke="#262626" stroke-width="0.90"/>
<polyline points="184.60,780.80 197.60,780.80" fill="none" stroke="#000" stroke-width="1.25" stroke-linejoin="round" stroke-linecap="round"/>
<text transform="translate(202.20 783.00) scale(0.954 1)" x="0.14 4.24 8.27 10.07 15.18 20.07 23.55 25.58 29.07 30.89 36.45" y="0" font-family="Liberation Sans" font-size="6.89" stroke="#000" stroke-width="0.10" xml:space="preserve">44 GHz cIMM</text>
<circle cx="191.10" cy="790.60" r="1.75" fill="#1f77b4"/>
<text transform="translate(202.20 792.40) scale(0.954 1)" x="0.14 4.24 8.27 10.07 15.18 20.07 23.55 25.58 29.07 30.89 36.45" y="0" font-family="Liberation Sans" font-size="6.89" stroke="#000" stroke-width="0.10" xml:space="preserve">44 GHz cIMM</text>
<text transform="translate(177.30 876.70) scale(1.021 1)" x="-11.60 -6.96 -4.64" y="0" font-family="Liberation Sans" font-size="8.34" stroke="#000" stroke-width="0.20" xml:space="preserve">0.0</text>
<text transform="translate(177.30 858.42) scale(1.021 1)" x="-11.60 -6.96 -4.64" y="0" font-family="Liberation Sans" font-size="8.34" stroke="#000" stroke-width="0.20" xml:space="preserve">0.2</text>
<text transform="translate(177.30 840.14) scale(1.021 1)" x="-11.60 -6.96 -4.64" y="0" font-family="Liberation Sans" font-size="8.34" stroke="#000" stroke-width="0.20" xml:space="preserve">0.4</text>
<text transform="translate(177.30 821.86) scale(1.021 1)" x="-11.60 -6.96 -4.64" y="0" font-family="Liberation Sans" font-size="8.34" stroke="#000" stroke-width="0.20" xml:space="preserve">0.6</text>
<text transform="translate(177.30 803.58) scale(1.021 1)" x="-11.60 -6.96 -4.64" y="0" font-family="Liberation Sans" font-size="8.34" stroke="#000" stroke-width="0.20" xml:space="preserve">0.8</text>
<text transform="translate(177.30 785.30) scale(1.021 1)" x="-11.60 -6.96 -4.64" y="0" font-family="Liberation Sans" font-size="8.34" stroke="#000" stroke-width="0.20" xml:space="preserve">1.0</text>
<text transform="translate(160.40 826.00) rotate(-90) scale(1.006 1)" x="-45.76 -39.99 -35.24 -32.17 -25.09 -20.37 -18.29 -16.47 -12.45 -7.79 -3.07 -1.14 3.68 5.67 10.48 14.81 17.00 22.86 27.52 32.06 36.21 38.47 41.21" y="0" font-family="Liberation Sans" font-size="8.40" stroke="#000" stroke-width="0.20" xml:space="preserve">Normalized Flux Density</text>
<rect x="179.60" y="879.10" width="256.00" height="12.40" fill="url(#jg)"/>
<rect x="179.60" y="879.10" width="256.00" height="12.40" fill="none" stroke="#262626" stroke-width="0.90"/>
<path d="M179.60 891.50v2.70M211.60 879.10v-2.70M211.60 891.50v2.70M243.60 879.10v-2.70M243.60 891.50v2.70M275.60 879.10v-2.70M275.60 891.50v2.70M307.60 879.10v-2.70M307.60 891.50v2.70M339.60 879.10v-2.70M339.60 891.50v2.70M371.60 879.10v-2.70M371.60 891.50v2.70M403.60 879.10v-2.70M403.60 891.50v2.70M435.60 891.50v2.70" stroke="#262626" stroke-width="0.90" fill="none"/>
<text transform="translate(179.60 903.20) scale(1.021 1)" x="-8.12 -3.48 1.16 3.48" y="0" font-family="Liberation Sans" font-size="8.34" stroke="#000" stroke-width="0.20" xml:space="preserve">40.5</text>
<text transform="translate(211.60 903.20) scale(1.021 1)" x="-8.12 -3.48 1.16 3.48" y="0" font-family="Liberation Sans" font-size="8.34" stroke="#000" stroke-width="0.20" xml:space="preserve">41.0</text>
<text transform="translate(243.60 903.20) scale(1.021 1)" x="-8.12 -3.48 1.16 3.48" y="0" font-family="Liberation Sans" font-size="8.34" stroke="#000" stroke-width="0.20" xml:space="preserve">41.5</text>
<text transform="translate(275.60 903.20) scale(1.021 1)" x="-8.12 -3.48 1.16 3.48" y="0" font-family="Liberation Sans" font-size="8.34" stroke="#000" stroke-width="0.20" xml:space="preserve">42.0</text>
<text transform="translate(307.60 903.20) scale(1.021 1)" x="-8.12 -3.48 1.16 3.48" y="0" font-family="Liberation Sans" font-size="8.34" stroke="#000" stroke-width="0.20" xml:space="preserve">42.5</text>
<text transform="translate(339.60 903.20) scale(1.021 1)" x="-8.12 -3.48 1.16 3.48" y="0" font-family="Liberation Sans" font-size="8.34" stroke="#000" stroke-width="0.20" xml:space="preserve">43.0</text>
<text transform="translate(371.60 903.20) scale(1.021 1)" x="-8.12 -3.48 1.16 3.48" y="0" font-family="Liberation Sans" font-size="8.34" stroke="#000" stroke-width="0.20" xml:space="preserve">43.5</text>
<text transform="translate(403.60 903.20) scale(1.021 1)" x="-8.12 -3.48 1.16 3.48" y="0" font-family="Liberation Sans" font-size="8.34" stroke="#000" stroke-width="0.20" xml:space="preserve">44.0</text>
<text transform="translate(435.60 903.20) scale(1.021 1)" x="-8.12 -3.48 1.16 3.48" y="0" font-family="Liberation Sans" font-size="8.34" stroke="#000" stroke-width="0.20" xml:space="preserve">44.5</text>
<text transform="translate(286.47 913.60) scale(0.916 1)" x="0.00" y="0" font-family="Liberation Sans" font-size="8.40" font-style="italic" stroke="#000" stroke-width="0.20" xml:space="preserve">V</text>
<text transform="translate(291.90 915.40) scale(0.866 1)" x="0.05 3.34 7.21" y="0" font-family="Liberation Sans" font-size="5.88" font-style="italic" stroke="#000" stroke-width="0.10" xml:space="preserve">LSR</text>
<text transform="translate(302.01 913.60) scale(1.026 1)" x="-0.00 2.35 5.19 9.47 16.60 18.80 22.83" y="0" font-family="Liberation Sans" font-size="8.40" stroke="#000" stroke-width="0.20" xml:space="preserve"> (km/s)</text>
<text x="298.80" y="943.10" font-family="Liberation Serif" font-size="14.60" text-anchor="middle" textLength="16.60" lengthAdjust="spacingAndGlyphs" stroke="#000" stroke-width="0.12">(c)</text>
</svg>
</body></html>
